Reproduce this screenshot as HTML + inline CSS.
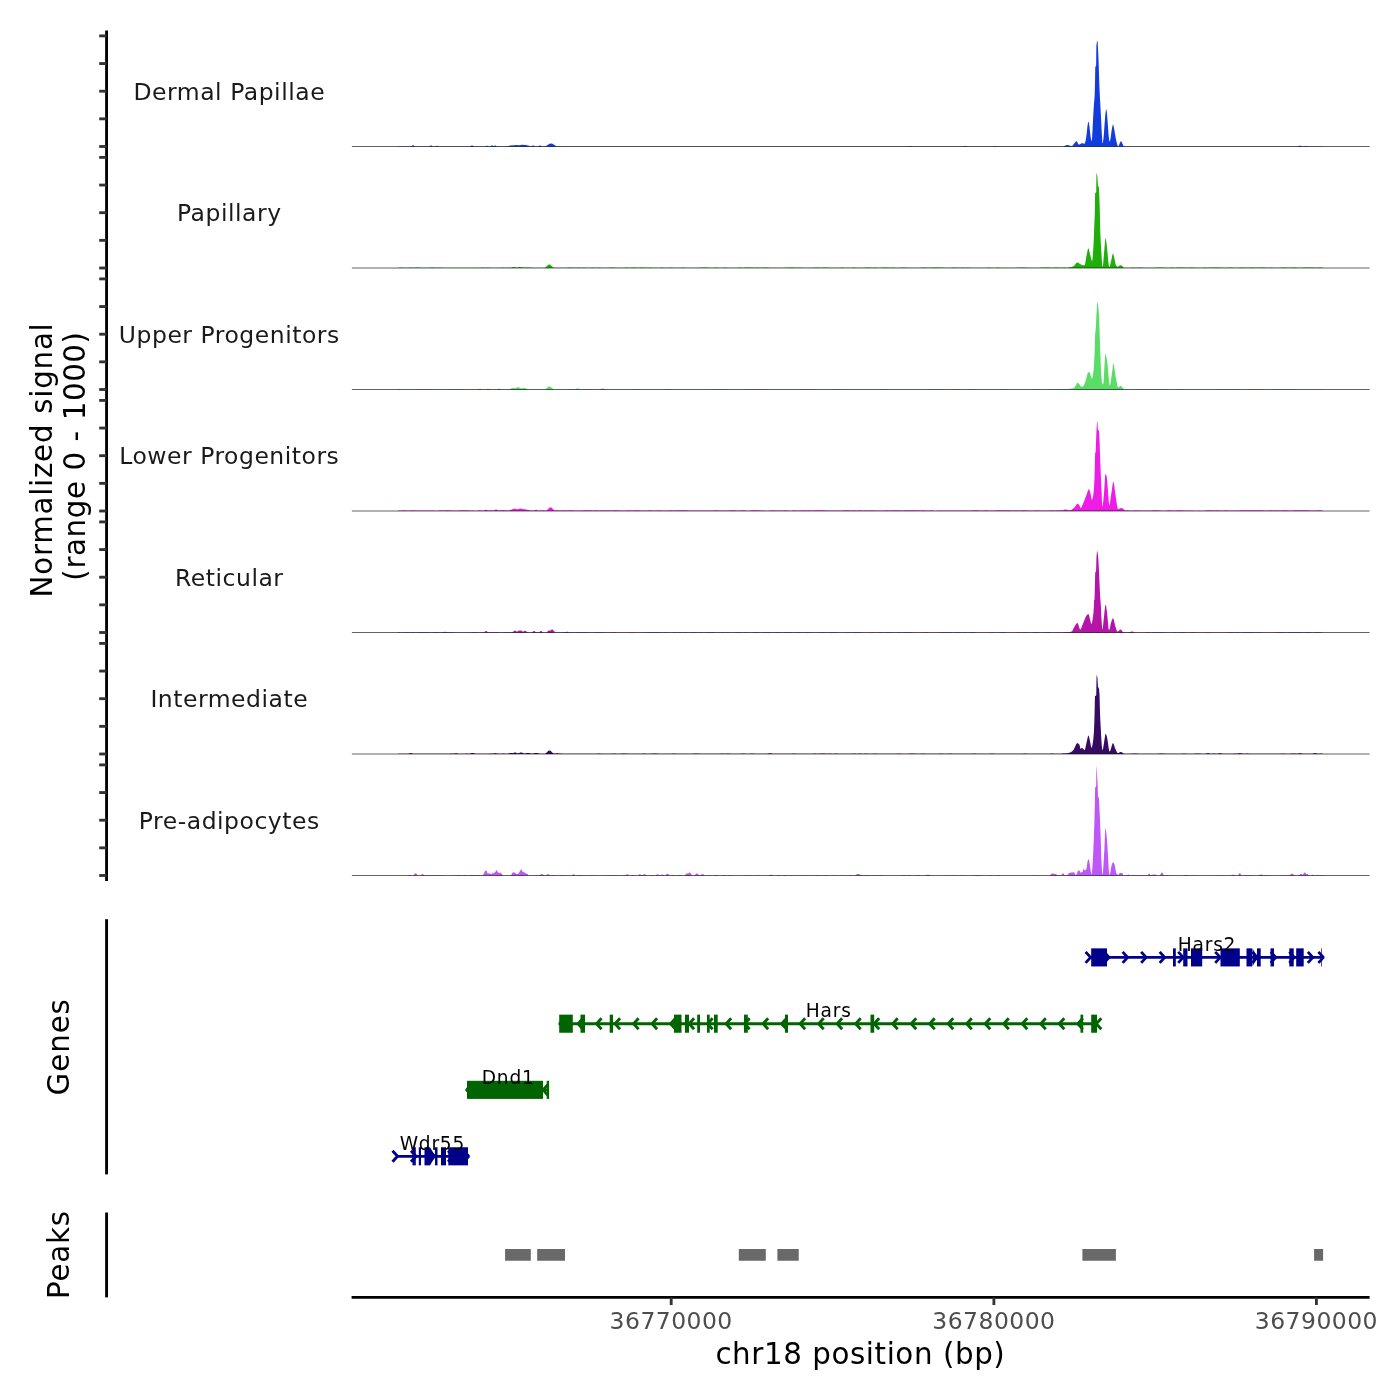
<!DOCTYPE html>
<html lang="en"><head><meta charset="utf-8"><title>Coverage plot chr18</title>
<style>html,body{margin:0;padding:0;background:#fff}svg{display:block}text{font-family:"DejaVu Sans", "Liberation Sans", sans-serif;letter-spacing:0.0197em}</style></head><body>
<svg width="1400" height="1400" viewBox="0 0 1400 1400">
<rect width="1400" height="1400" fill="#fff"/>
<path d="M398 146.5 L398 146.23 L401 146.21 L404 146.2 L407 146.26 L410 146.31 L413 146.26 L416 146.22 L419 146.3 L422 146.35 L425 146.22 L428 146.28 L431 146.22 L434 146.33 L437 146.31 L440 146.35 L443 146.31 L446 146.25 L449 146.29 L452 146.29 L455 146.36 L458 146.35 L461 146.26 L464 146.26 L467 146.23 L470 146.36 L473 146.24 L476 146.28 L479 146.25 L482 146.3 L485 146.24 L488 146.24 L491 146.26 L494 146.26 L497 146.36 L500 146.21 L503 146.2 L506 146.36 L509 146.22 L512 146.25 L515 146.23 L518 146.36 L521 146.31 L524 146.27 L527 146.31 L530 146.22 L533 146.22 L536 146.32 L539 146.2 L542 146.36 L545 146.33 L548 146.33 L551 146.21 L554 146.35 L557 146.28 L560 146.27 L563 146.34 L566 146.24 L569 146.31 L572 146.33 L575 146.21 L578 146.3 L581 146.35 L584 146.34 L587 146.21 L590 146.23 L593 146.33 L596 146.34 L599 146.31 L602 146.28 L605 146.26 L608 146.33 L611 146.36 L614 146.29 L617 146.33 L620 146.35 L623 146.2 L626 146.21 L629 146.31 L632 146.23 L635 146.24 L638 146.31 L641 146.21 L644 146.21 L647 146.27 L650 146.26 L653 146.36 L656 146.2 L659 146.25 L662 146.3 L665 146.28 L668 146.33 L671 146.23 L674 146.32 L677 146.3 L680 146.25 L683 146.36 L686 146.3 L689 146.28 L692 146.32 L695 146.23 L698 146.27 L701 146.35 L704 146.32 L707 146.32 L710 146.25 L713 146.25 L716 146.32 L719 146.31 L722 146.24 L725 146.36 L728 146.34 L731 146.25 L734 146.27 L737 146.24 L740 146.2 L743 146.2 L746 146.25 L749 146.32 L752 146.25 L755 146.3 L758 146.27 L761 146.29 L764 146.26 L767 146.3 L770 146.22 L773 146.33 L776 146.22 L779 146.33 L782 146.21 L785 146.21 L788 146.24 L791 146.29 L794 146.33 L797 146.25 L800 146.26 L803 146.3 L806 146.33 L809 146.32 L812 146.25 L815 146.26 L818 146.31 L821 146.3 L824 146.29 L827 146.31 L830 146.28 L833 146.27 L836 146.35 L839 146.31 L842 146.25 L845 146.26 L848 146.36 L851 146.21 L854 146.26 L857 146.22 L860 146.34 L863 146.21 L866 146.33 L869 146.3 L872 146.27 L875 146.35 L878 146.25 L881 146.26 L884 146.23 L887 146.24 L890 146.36 L893 146.36 L896 146.26 L899 146.3 L902 146.22 L905 146.21 L908 146.25 L911 146.35 L914 146.29 L917 146.25 L920 146.33 L923 146.36 L926 146.3 L929 146.32 L932 146.23 L935 146.25 L938 146.33 L941 146.34 L944 146.24 L947 146.31 L950 146.36 L953 146.29 L956 146.26 L959 146.28 L962 146.3 L965 146.35 L968 146.23 L971 146.34 L974 146.33 L977 146.3 L980 146.29 L983 146.34 L986 146.35 L989 146.29 L992 146.31 L995 146.36 L998 146.28 L1001 146.31 L1004 146.23 L1007 146.36 L1010 146.29 L1013 146.35 L1016 146.34 L1019 146.31 L1022 146.21 L1025 146.36 L1028 146.3 L1031 146.29 L1034 146.26 L1037 146.28 L1040 146.32 L1043 146.21 L1046 146.3 L1049 146.33 L1052 146.27 L1055 146.24 L1058 146.22 L1061 146.26 L1064 146.33 L1067 146.28 L1070 146.27 L1073 146.21 L1076 146.36 L1079 146.29 L1082 146.35 L1085 146.31 L1088 146.29 L1091 146.34 L1094 146.35 L1097 146.23 L1100 146.21 L1103 146.31 L1106 146.31 L1109 146.32 L1112 146.36 L1115 146.31 L1118 146.33 L1121 146.35 L1124 146.34 L1127 146.36 L1130 146.21 L1133 146.27 L1136 146.22 L1139 146.23 L1142 146.36 L1145 146.3 L1148 146.28 L1151 146.35 L1154 146.35 L1157 146.27 L1160 146.31 L1163 146.36 L1166 146.29 L1169 146.26 L1172 146.23 L1175 146.27 L1178 146.28 L1181 146.34 L1184 146.26 L1187 146.27 L1190 146.21 L1193 146.24 L1196 146.21 L1199 146.24 L1202 146.3 L1205 146.23 L1208 146.26 L1211 146.36 L1214 146.34 L1217 146.29 L1220 146.25 L1223 146.29 L1226 146.35 L1229 146.24 L1232 146.29 L1235 146.32 L1238 146.36 L1241 146.24 L1244 146.35 L1247 146.34 L1250 146.33 L1253 146.36 L1256 146.29 L1259 146.29 L1262 146.35 L1265 146.21 L1268 146.35 L1271 146.31 L1274 146.27 L1277 146.3 L1280 146.22 L1283 146.26 L1286 146.33 L1289 146.29 L1292 146.34 L1295 146.3 L1298 146.28 L1301 146.35 L1304 146.36 L1307 146.24 L1310 146.23 L1313 146.26 L1316 146.21 L1319 146.28 L1322 146.35 L1323.5 146.5Z" fill="#133CDC"/>
<path d="M507 146.5 L510 145.5 L514 145.3 L516 144.9 L519 145.2 L522 144.7 L526 145 L529 145.7 L531 146.5 Z" fill="#133CDC"/>
<path d="M411 146.5 L411.76 145.96 L412.5 145.36 L413 145.3 L413.5 145.36 L414.24 145.96 L415 146.5Z" fill="#133CDC"/>
<path d="M429 146.5 L429.76 146.05 L430.5 145.55 L431 145.5 L431.5 145.55 L432.24 146.05 L433 146.5Z" fill="#133CDC"/>
<path d="M435.5 146.5 L436.07 146.14 L436.62 145.74 L437 145.7 L437.38 145.74 L437.93 146.14 L438.5 146.5Z" fill="#133CDC"/>
<path d="M470 146.5 L470.76 146.05 L471.5 145.55 L472 145.5 L472.5 145.55 L473.24 146.05 L474 146.5Z" fill="#133CDC"/>
<path d="M485 146.5 L485.76 146.14 L486.5 145.74 L487 145.7 L487.5 145.74 L488.24 146.14 L489 146.5Z" fill="#133CDC"/>
<path d="M490 146.5 L490.76 146.05 L491.5 145.55 L492 145.5 L492.5 145.55 L493.24 146.05 L494 146.5Z" fill="#133CDC"/>
<path d="M493 146.5 L493.76 146.05 L494.5 145.55 L495 145.5 L495.5 145.55 L496.24 146.05 L497 146.5Z" fill="#133CDC"/>
<path d="M531 146.5 L531.76 146.05 L532.5 145.55 L533 145.5 L533.5 145.55 L534.24 146.05 L535 146.5Z" fill="#133CDC"/>
<path d="M538 146.5 L538.76 146.05 L539.5 145.55 L540 145.5 L540.5 145.55 L541.24 146.05 L542 146.5Z" fill="#133CDC"/>
<path d="M545 146.5 L547.28 145.15 L549.5 143.65 L551 143.5 L552.5 143.65 L554.72 145.15 L557 146.5Z" fill="#133CDC"/>
<path d="M908 146.5 L908.76 146.23 L909.5 145.93 L910 145.9 L910.5 145.93 L911.24 146.23 L912 146.5Z" fill="#133CDC"/>
<path d="M962 146.5 L963.14 146.23 L964.25 145.93 L965 145.9 L965.75 145.93 L966.86 146.23 L968 146.5Z" fill="#133CDC"/>
<path d="M993 146.5 L993.76 146.23 L994.5 145.93 L995 145.9 L995.5 145.93 L996.24 146.23 L997 146.5Z" fill="#133CDC"/>
<path d="M1297 146.5 L1298.14 146.14 L1299.25 145.74 L1300 145.7 L1300.75 145.74 L1301.86 146.14 L1303 146.5Z" fill="#133CDC"/>
<path d="M1304 146.5 L1304.76 146.23 L1305.5 145.93 L1306 145.9 L1306.5 145.93 L1307.24 146.23 L1308 146.5Z" fill="#133CDC"/>
<path d="M1064 146.5 L1064 146.33 L1064.4 146.08 L1064.8 145.85 L1065.2 145.64 L1065.6 145.45 L1066 145.3 L1066.4 145.18 L1066.8 145.1 L1067.2 145.05 L1067.43 145.04 L1067.6 145.05 L1068 145.09 L1068.4 145.18 L1068.8 145.29 L1069.2 145.43 L1069.61 145.57 L1070.01 145.71 L1070.41 145.84 L1070.81 145.95 L1071.21 146.03 L1071.61 146.07 L1071.71 146.07 L1072.01 146 L1072.41 145.72 L1072.81 145.28 L1073.21 144.74 L1073.61 144.18 L1074.01 143.64 L1074.29 143.33 L1074.41 143.19 L1074.81 142.7 L1075.21 142.17 L1075.61 141.68 L1076.01 141.33 L1076.41 141.19 L1076.43 141.19 L1076.81 141.39 L1077.21 141.95 L1077.61 142.7 L1078.01 143.49 L1078.41 144.16 L1078.81 144.56 L1079 144.61 L1079.21 144.59 L1079.61 144.46 L1080.02 144.23 L1080.42 143.95 L1080.82 143.66 L1081.22 143.4 L1081.62 143.22 L1082 143.16 L1082.02 143.16 L1082.42 143.2 L1082.82 143.3 L1083.22 143.43 L1083.62 143.57 L1084.02 143.69 L1084.42 143.75 L1084.57 143.76 L1084.82 143.51 L1085.22 142.31 L1085.62 140.61 L1085.69 140.33 L1086.02 138.44 L1086.42 135.42 L1086.71 133.04 L1086.82 132.13 L1087.22 128.2 L1087.57 125.33 L1087.62 125.02 L1088.02 122.64 L1088.42 121.47 L1088.43 121.47 L1088.82 122.58 L1089.22 124.95 L1089.29 125.33 L1089.62 128.1 L1090.02 132.04 L1090.14 133.04 L1090.42 135.31 L1090.83 138.23 L1091.09 139.47 L1091.23 139.93 L1091.63 140.92 L1091.77 141.01 L1092.03 138.91 L1092.37 133.04 L1092.43 132.13 L1092.83 124.05 L1093.14 117.61 L1093.23 116.09 L1093.63 109.2 L1093.91 104.76 L1094.03 103.25 L1094.43 98.78 L1094.65 95.16 L1094.83 89.72 L1095.09 78.1 L1095.23 69.08 L1095.29 67.3 L1095.63 66.3 L1096.03 65.69 L1096.14 65.16 L1096.37 45.87 L1096.43 45.27 L1096.83 42.2 L1097.23 40.94 L1097.43 40.81 L1097.63 42.03 L1098.03 48.95 L1098.2 52.3 L1098.43 57.5 L1098.71 65.16 L1098.83 68.84 L1099.12 78.1 L1099.23 81.24 L1099.63 90.95 L1099.83 95.16 L1100.03 99.15 L1100.34 104.76 L1100.43 106.46 L1100.83 113.92 L1101.03 117.61 L1101.23 121.83 L1101.64 130.29 L1101.89 134.76 L1102.04 137.24 L1102.44 142.94 L1102.57 143.5 L1102.84 142.77 L1103.17 140.76 L1103.24 140.33 L1103.64 136.73 L1103.86 134.33 L1104.04 132.08 L1104.44 126.19 L1104.71 122.33 L1104.84 120.74 L1105.24 115.71 L1105.57 112.47 L1105.64 111.95 L1106.04 109.3 L1106.17 109.04 L1106.44 109.76 L1106.84 112.35 L1106.86 112.47 L1107.24 116.41 L1107.64 121.81 L1107.71 122.76 L1108.04 127.38 L1108.44 132.94 L1108.57 134.33 L1108.84 137.01 L1109.24 140.48 L1109.6 141.79 L1109.64 141.77 L1110.04 140.83 L1110.44 139.1 L1110.46 139.04 L1110.84 136.57 L1111.14 134.33 L1111.24 133.6 L1111.64 130.57 L1112 128.33 L1112.05 128.1 L1112.45 126.08 L1112.85 124.66 L1113.03 124.47 L1113.25 124.78 L1113.65 126.37 L1113.89 127.47 L1114.05 128.23 L1114.45 130.54 L1114.85 133.02 L1115 133.9 L1115.25 135.31 L1115.65 137.63 L1116.05 139.73 L1116.29 140.76 L1116.45 141.41 L1116.85 143.04 L1117.25 144.57 L1117.65 145.77 L1118.05 146.43 L1118.21 146.5 L1118.45 146.35 L1118.85 145.56 L1119.25 144.46 L1119.65 143.45 L1119.71 143.33 L1120.05 142.62 L1120.45 141.77 L1120.85 141.24 L1121 141.19 L1121.25 141.33 L1121.65 141.99 L1122.05 142.86 L1122.29 143.33 L1122.45 143.67 L1122.86 144.61 L1123.26 145.48 L1123.57 145.9 L1123.66 145.96 L1124.06 146.23 L1124.46 146.43 L1124.86 146.5 L1124.86 146.5Z" fill="#133CDC"/>
<line x1="351.9" y1="146.5" x2="1369.6" y2="146.5" stroke="#000" stroke-width="0.62"/>
<path d="M398 268 L398 267.73 L401 267.53 L404 267.64 L407 267.76 L410 267.58 L413 267.63 L416 267.55 L419 267.58 L422 267.69 L425 267.69 L428 267.69 L431 267.58 L434 267.51 L437 267.73 L440 267.56 L443 267.75 L446 267.66 L449 267.66 L452 267.7 L455 267.68 L458 267.73 L461 267.63 L464 267.76 L467 267.64 L470 267.77 L473 267.73 L476 267.7 L479 267.76 L482 267.56 L485 267.76 L488 267.52 L491 267.64 L494 267.76 L497 267.75 L500 267.63 L503 267.56 L506 267.64 L509 267.57 L512 267.67 L515 267.55 L518 267.57 L521 267.59 L524 267.55 L527 267.61 L530 267.54 L533 267.68 L536 267.71 L539 267.77 L542 267.64 L545 267.66 L548 267.75 L551 267.75 L554 267.66 L557 267.64 L560 267.75 L563 267.77 L566 267.73 L569 267.55 L572 267.54 L575 267.69 L578 267.56 L581 267.76 L584 267.55 L587 267.68 L590 267.64 L593 267.6 L596 267.75 L599 267.51 L602 267.75 L605 267.73 L608 267.69 L611 267.54 L614 267.56 L617 267.72 L620 267.69 L623 267.69 L626 267.58 L629 267.67 L632 267.55 L635 267.52 L638 267.74 L641 267.57 L644 267.6 L647 267.74 L650 267.54 L653 267.72 L656 267.66 L659 267.65 L662 267.6 L665 267.77 L668 267.69 L671 267.61 L674 267.72 L677 267.69 L680 267.66 L683 267.61 L686 267.71 L689 267.64 L692 267.67 L695 267.76 L698 267.67 L701 267.56 L704 267.62 L707 267.56 L710 267.72 L713 267.74 L716 267.55 L719 267.66 L722 267.71 L725 267.5 L728 267.66 L731 267.67 L734 267.77 L737 267.65 L740 267.57 L743 267.67 L746 267.6 L749 267.6 L752 267.53 L755 267.67 L758 267.53 L761 267.64 L764 267.56 L767 267.61 L770 267.65 L773 267.74 L776 267.66 L779 267.63 L782 267.76 L785 267.77 L788 267.53 L791 267.55 L794 267.6 L797 267.7 L800 267.56 L803 267.68 L806 267.64 L809 267.75 L812 267.63 L815 267.52 L818 267.56 L821 267.64 L824 267.56 L827 267.55 L830 267.71 L833 267.74 L836 267.69 L839 267.68 L842 267.59 L845 267.75 L848 267.72 L851 267.73 L854 267.52 L857 267.64 L860 267.71 L863 267.76 L866 267.57 L869 267.53 L872 267.77 L875 267.53 L878 267.77 L881 267.76 L884 267.53 L887 267.53 L890 267.72 L893 267.59 L896 267.68 L899 267.68 L902 267.56 L905 267.6 L908 267.71 L911 267.72 L914 267.73 L917 267.77 L920 267.66 L923 267.54 L926 267.5 L929 267.73 L932 267.62 L935 267.57 L938 267.59 L941 267.54 L944 267.76 L947 267.64 L950 267.68 L953 267.58 L956 267.5 L959 267.67 L962 267.6 L965 267.64 L968 267.61 L971 267.71 L974 267.66 L977 267.63 L980 267.69 L983 267.66 L986 267.63 L989 267.53 L992 267.7 L995 267.66 L998 267.51 L1001 267.66 L1004 267.67 L1007 267.68 L1010 267.76 L1013 267.66 L1016 267.63 L1019 267.55 L1022 267.53 L1025 267.56 L1028 267.66 L1031 267.72 L1034 267.75 L1037 267.66 L1040 267.73 L1043 267.56 L1046 267.6 L1049 267.56 L1052 267.64 L1055 267.55 L1058 267.55 L1061 267.7 L1064 267.53 L1067 267.64 L1070 267.56 L1073 267.55 L1076 267.58 L1079 267.62 L1082 267.55 L1085 267.69 L1088 267.56 L1091 267.54 L1094 267.74 L1097 267.77 L1100 267.5 L1103 267.63 L1106 267.77 L1109 267.65 L1112 267.69 L1115 267.75 L1118 267.66 L1121 267.66 L1124 267.75 L1127 267.67 L1130 267.69 L1133 267.61 L1136 267.64 L1139 267.54 L1142 267.54 L1145 267.77 L1148 267.71 L1151 267.66 L1154 267.68 L1157 267.53 L1160 267.59 L1163 267.58 L1166 267.63 L1169 267.69 L1172 267.57 L1175 267.64 L1178 267.54 L1181 267.54 L1184 267.53 L1187 267.71 L1190 267.5 L1193 267.62 L1196 267.75 L1199 267.66 L1202 267.66 L1205 267.55 L1208 267.75 L1211 267.6 L1214 267.52 L1217 267.61 L1220 267.57 L1223 267.64 L1226 267.76 L1229 267.58 L1232 267.52 L1235 267.77 L1238 267.72 L1241 267.6 L1244 267.53 L1247 267.69 L1250 267.6 L1253 267.56 L1256 267.71 L1259 267.55 L1262 267.57 L1265 267.51 L1268 267.77 L1271 267.58 L1274 267.73 L1277 267.63 L1280 267.66 L1283 267.58 L1286 267.61 L1289 267.73 L1292 267.58 L1295 267.57 L1298 267.75 L1301 267.72 L1304 267.59 L1307 267.57 L1310 267.51 L1313 267.6 L1316 267.73 L1319 267.55 L1322 267.54 L1323.5 268Z" fill="#20AE0A"/>
<path d="M511.2 268 L512.15 267.55 L513.08 267.05 L513.7 267 L514.33 267.05 L515.25 267.55 L516.2 268Z" fill="#20AE0A"/>
<path d="M517.5 268 L518.45 267.55 L519.38 267.05 L520 267 L520.62 267.05 L521.55 267.55 L522.5 268Z" fill="#20AE0A"/>
<path d="M544.8 268 L546.51 266.43 L548.17 264.68 L549.3 264.5 L550.42 264.68 L552.09 266.43 L553.8 268Z" fill="#20AE0A"/>
<path d="M1068.29 268 L1068.29 267.57 L1068.69 267.56 L1069.09 267.53 L1069.49 267.48 L1069.89 267.42 L1070.29 267.33 L1070.69 267.24 L1071.09 267.13 L1071.49 267.01 L1071.89 266.87 L1072.29 266.73 L1072.69 266.58 L1073.09 266.42 L1073.43 266.29 L1073.49 266.26 L1073.89 265.98 L1074.3 265.57 L1074.7 265.08 L1075.1 264.52 L1075.5 263.96 L1075.9 263.44 L1076.3 262.98 L1076.7 262.64 L1077.1 262.45 L1077.29 262.43 L1077.5 262.45 L1077.9 262.57 L1078.3 262.78 L1078.7 263.05 L1079.1 263.35 L1079.5 263.65 L1079.9 263.93 L1080.29 264.14 L1080.3 264.15 L1080.7 264.35 L1081.11 264.57 L1081.51 264.78 L1081.91 264.96 L1082.31 265.09 L1082.71 265.17 L1082.86 265.17 L1083.11 265.17 L1083.51 265.17 L1083.91 265.17 L1084.31 265.17 L1084.57 265.17 L1084.71 265.08 L1085.11 263.94 L1085.51 261.87 L1085.91 259.33 L1086.31 256.79 L1086.71 254.71 L1087.11 252.83 L1087.52 250.85 L1087.92 249.21 L1088.32 248.34 L1088.43 248.29 L1088.72 248.63 L1089.12 249.99 L1089.52 251.9 L1089.92 253.83 L1090.14 254.71 L1090.32 255.37 L1090.72 257.03 L1091.12 258.71 L1091.52 260.08 L1091.92 260.85 L1092.07 260.91 L1092.32 260.22 L1092.72 256.66 L1093.12 250.99 L1093.52 244.18 L1093.66 241.86 L1093.93 235.37 L1094.17 228.49 L1094.33 224.98 L1094.73 215.87 L1094.86 211.34 L1095.11 193 L1095.13 192.98 L1095.53 192.7 L1095.93 192.62 L1096.23 192.31 L1096.31 181.86 L1096.33 180.72 L1096.49 172.94 L1096.73 173.28 L1097.13 175.06 L1097.43 177.06 L1097.53 178.37 L1097.93 185.5 L1097.94 185.54 L1098.33 186.16 L1098.73 186.65 L1098.8 186.83 L1099.13 191.81 L1099.4 198.4 L1099.53 201.82 L1099.83 211.34 L1099.93 216.48 L1100.17 228.49 L1100.34 233.08 L1100.74 241.31 L1101.03 246.14 L1101.14 247.99 L1101.54 255.23 L1101.94 261.83 L1102.34 266.13 L1102.57 266.91 L1102.74 266.61 L1103.14 263.89 L1103.54 259.36 L1103.94 254.28 L1104.29 250.43 L1104.34 249.87 L1104.74 245.01 L1105.14 240.3 L1105.54 238.01 L1105.57 238 L1105.94 239.1 L1106.34 241.95 L1106.75 245.29 L1106.86 246.14 L1107.15 248.62 L1107.55 252.94 L1107.95 257.65 L1108.35 262.02 L1108.75 265.34 L1109.15 266.88 L1109.21 266.91 L1109.55 266.64 L1109.95 265.69 L1110.35 264.26 L1110.75 262.54 L1111.15 260.75 L1111.55 259.07 L1111.57 259 L1111.95 257.09 L1112.35 254.86 L1112.75 253.5 L1112.86 253.43 L1113.16 253.77 L1113.56 254.99 L1113.96 256.58 L1114.14 257.29 L1114.36 258.16 L1114.76 260.22 L1115.16 262.4 L1115.56 264.2 L1115.86 265 L1115.96 265.17 L1116.36 265.77 L1116.76 266.26 L1117.16 266.59 L1117.56 266.71 L1117.57 266.71 L1117.96 266.64 L1118.36 266.45 L1118.76 266.18 L1119.16 265.87 L1119.57 265.58 L1119.97 265.33 L1120.37 265.19 L1120.57 265.17 L1120.77 265.18 L1121.17 265.28 L1121.57 265.47 L1121.97 265.74 L1122.37 266.1 L1122.77 266.52 L1123.17 267.02 L1123.57 267.57 L1123.57 268Z" fill="#20AE0A"/>
<line x1="351.9" y1="268" x2="1369.6" y2="268" stroke="#000" stroke-width="0.62"/>
<path d="M398 389.5 L398 389.12 L401 389.28 L404 389.18 L407 389.22 L410 389.3 L413 389.23 L416 389.29 L419 389.31 L422 389.11 L425 389.15 L428 389.16 L431 389.12 L434 389.31 L437 389.19 L440 389.22 L443 389.14 L446 389.29 L449 389.11 L452 389.16 L455 389.3 L458 389.18 L461 389.1 L464 389.22 L467 389.28 L470 389.32 L473 389.2 L476 389.18 L479 389.22 L482 389.19 L485 389.23 L488 389.16 L491 389.17 L494 389.31 L497 389.21 L500 389.3 L503 389.32 L506 389.25 L509 389.28 L512 389.17 L515 389.15 L518 389.23 L521 389.32 L524 389.31 L527 389.26 L530 389.14 L533 389.15 L536 389.29 L539 389.21 L542 389.2 L545 389.26 L548 389.25 L551 389.26 L554 389.15 L557 389.13 L560 389.32 L563 389.13 L566 389.19 L569 389.25 L572 389.12 L575 389.26 L578 389.2 L581 389.24 L584 389.13 L587 389.23 L590 389.29 L593 389.3 L596 389.32 L599 389.19 L602 389.25 L605 389.17 L608 389.15 L611 389.17 L614 389.16 L617 389.15 L620 389.29 L623 389.27 L626 389.21 L629 389.31 L632 389.27 L635 389.21 L638 389.12 L641 389.19 L644 389.16 L647 389.17 L650 389.22 L653 389.24 L656 389.22 L659 389.18 L662 389.14 L665 389.3 L668 389.22 L671 389.16 L674 389.29 L677 389.14 L680 389.19 L683 389.28 L686 389.3 L689 389.23 L692 389.29 L695 389.26 L698 389.2 L701 389.13 L704 389.21 L707 389.26 L710 389.16 L713 389.1 L716 389.25 L719 389.29 L722 389.25 L725 389.11 L728 389.17 L731 389.31 L734 389.23 L737 389.16 L740 389.22 L743 389.28 L746 389.11 L749 389.18 L752 389.3 L755 389.1 L758 389.18 L761 389.12 L764 389.21 L767 389.14 L770 389.23 L773 389.32 L776 389.2 L779 389.14 L782 389.28 L785 389.3 L788 389.24 L791 389.19 L794 389.3 L797 389.14 L800 389.25 L803 389.12 L806 389.3 L809 389.11 L812 389.25 L815 389.18 L818 389.28 L821 389.19 L824 389.16 L827 389.24 L830 389.19 L833 389.17 L836 389.2 L839 389.12 L842 389.18 L845 389.19 L848 389.25 L851 389.23 L854 389.18 L857 389.29 L860 389.26 L863 389.27 L866 389.25 L869 389.14 L872 389.22 L875 389.17 L878 389.16 L881 389.29 L884 389.1 L887 389.32 L890 389.25 L893 389.26 L896 389.18 L899 389.25 L902 389.17 L905 389.25 L908 389.24 L911 389.26 L914 389.21 L917 389.24 L920 389.27 L923 389.31 L926 389.32 L929 389.23 L932 389.12 L935 389.23 L938 389.2 L941 389.11 L944 389.16 L947 389.17 L950 389.26 L953 389.11 L956 389.11 L959 389.13 L962 389.13 L965 389.26 L968 389.23 L971 389.12 L974 389.28 L977 389.18 L980 389.29 L983 389.3 L986 389.24 L989 389.16 L992 389.14 L995 389.24 L998 389.23 L1001 389.22 L1004 389.1 L1007 389.18 L1010 389.17 L1013 389.15 L1016 389.26 L1019 389.24 L1022 389.23 L1025 389.13 L1028 389.22 L1031 389.21 L1034 389.19 L1037 389.11 L1040 389.18 L1043 389.18 L1046 389.14 L1049 389.24 L1052 389.32 L1055 389.11 L1058 389.15 L1061 389.12 L1064 389.1 L1067 389.22 L1070 389.32 L1073 389.25 L1076 389.16 L1079 389.26 L1082 389.21 L1085 389.13 L1088 389.3 L1091 389.2 L1094 389.19 L1097 389.15 L1100 389.17 L1103 389.17 L1106 389.25 L1109 389.18 L1112 389.19 L1115 389.13 L1118 389.31 L1121 389.16 L1124 389.31 L1127 389.29 L1130 389.17 L1133 389.27 L1136 389.3 L1139 389.12 L1142 389.18 L1145 389.26 L1148 389.1 L1151 389.16 L1154 389.18 L1157 389.14 L1160 389.1 L1163 389.24 L1166 389.32 L1169 389.19 L1172 389.18 L1175 389.23 L1178 389.27 L1181 389.12 L1184 389.29 L1187 389.13 L1190 389.31 L1193 389.24 L1196 389.13 L1199 389.21 L1202 389.23 L1205 389.27 L1208 389.28 L1211 389.18 L1214 389.17 L1217 389.15 L1220 389.15 L1223 389.12 L1226 389.32 L1229 389.26 L1232 389.1 L1235 389.16 L1238 389.24 L1241 389.22 L1244 389.17 L1247 389.22 L1250 389.17 L1253 389.11 L1256 389.1 L1259 389.19 L1262 389.32 L1265 389.24 L1268 389.24 L1271 389.22 L1274 389.15 L1277 389.18 L1280 389.11 L1283 389.15 L1286 389.19 L1289 389.21 L1292 389.12 L1295 389.21 L1298 389.3 L1301 389.17 L1304 389.25 L1307 389.25 L1310 389.21 L1313 389.18 L1316 389.24 L1319 389.17 L1322 389.18 L1323.5 389.5Z" fill="#5ADD67"/>
<path d="M477.5 389.5 L478.45 389.14 L479.38 388.74 L480 388.7 L480.62 388.74 L481.55 389.14 L482.5 389.5Z" fill="#5ADD67"/>
<path d="M485.5 389.5 L486.45 389.14 L487.38 388.74 L488 388.7 L488.62 388.74 L489.55 389.14 L490.5 389.5Z" fill="#5ADD67"/>
<path d="M496.5 389.5 L497.45 389.14 L498.38 388.74 L499 388.7 L499.62 388.74 L500.55 389.14 L501.5 389.5Z" fill="#5ADD67"/>
<path d="M509 389.5 L510.52 388.82 L512 388.07 L513 388 L514 388.07 L515.48 388.82 L517 389.5Z" fill="#5ADD67"/>
<path d="M513 389.5 L514.9 388.51 L516.75 387.41 L518 387.3 L519.25 387.41 L521.1 388.51 L523 389.5Z" fill="#5ADD67"/>
<path d="M520 389.5 L521.52 388.78 L523 387.98 L524 387.9 L525 387.98 L526.48 388.78 L528 389.5Z" fill="#5ADD67"/>
<path d="M544.9 389.5 L546.61 388.15 L548.27 386.65 L549.4 386.5 L550.52 386.65 L552.19 388.15 L553.9 389.5Z" fill="#5ADD67"/>
<path d="M574.5 389.5 L575.64 389.05 L576.75 388.55 L577.5 388.5 L578.25 388.55 L579.36 389.05 L580.5 389.5Z" fill="#5ADD67"/>
<path d="M585 389.5 L585.76 389.23 L586.5 388.93 L587 388.9 L587.5 388.93 L588.24 389.23 L589 389.5Z" fill="#5ADD67"/>
<path d="M599 389.5 L600.33 389.05 L601.62 388.55 L602.5 388.5 L603.38 388.55 L604.67 389.05 L606 389.5Z" fill="#5ADD67"/>
<path d="M666 389.5 L666.76 389.23 L667.5 388.93 L668 388.9 L668.5 388.93 L669.24 389.23 L670 389.5Z" fill="#5ADD67"/>
<path d="M1061.43 389.5 L1061.43 389.24 L1061.83 389.24 L1062.23 389.24 L1062.63 389.24 L1063.03 389.23 L1063.43 389.22 L1063.83 389.21 L1064.24 389.2 L1064.64 389.18 L1065.04 389.17 L1065.44 389.15 L1065.84 389.13 L1066.24 389.11 L1066.64 389.08 L1067.04 389.05 L1067.44 389.02 L1067.84 388.99 L1068.24 388.95 L1068.65 388.91 L1069.05 388.87 L1069.45 388.83 L1069.85 388.78 L1070.25 388.73 L1070.65 388.68 L1071.05 388.62 L1071.45 388.56 L1071.85 388.5 L1072.25 388.43 L1072.65 388.36 L1073.06 388.29 L1073.43 388.21 L1073.46 388.21 L1073.86 388.02 L1074.26 387.66 L1074.66 387.18 L1075.06 386.62 L1075.46 386.02 L1075.86 385.42 L1076 385.21 L1076.26 384.74 L1076.66 383.82 L1077.06 382.99 L1077.46 382.64 L1077.47 382.64 L1077.87 382.76 L1078.27 383.07 L1078.67 383.49 L1079.07 383.96 L1079.43 384.36 L1079.47 384.4 L1079.87 384.96 L1080.27 385.63 L1080.67 386.2 L1081.07 386.49 L1081.14 386.5 L1081.47 386.5 L1081.88 386.5 L1082.28 386.5 L1082.68 386.5 L1082.86 386.5 L1083.08 386.44 L1083.48 386.03 L1083.88 385.32 L1084.28 384.4 L1084.68 383.35 L1085.08 382.26 L1085.43 381.36 L1085.48 381.21 L1085.88 379.94 L1086.29 378.38 L1086.69 376.71 L1087.09 375.13 L1087.49 373.8 L1087.89 372.93 L1088 372.79 L1088.29 372.49 L1088.69 372.16 L1089.09 371.96 L1089.29 371.93 L1089.49 372.09 L1089.89 373.1 L1090.29 374.5 L1090.57 375.36 L1090.7 375.72 L1091.1 377.1 L1091.5 378.32 L1091.86 378.79 L1091.9 378.78 L1092.3 378.06 L1092.7 376.32 L1093.1 373.81 L1093.5 370.77 L1093.57 370.21 L1093.9 366.26 L1094.3 358.91 L1094.43 356.24 L1094.71 348.27 L1094.86 343.3 L1095.11 334.96 L1095.11 334.81 L1095.51 330.57 L1095.91 327.12 L1095.97 326.24 L1096.31 317.61 L1096.4 315.53 L1096.71 310.73 L1096.83 309.1 L1097.11 304.44 L1097.43 301.3 L1097.51 301.37 L1097.91 303.24 L1098.31 306.78 L1098.54 309.1 L1098.71 311.21 L1098.97 315.53 L1099.12 318.65 L1099.4 326.24 L1099.52 329.57 L1099.83 339.1 L1099.92 341.71 L1100.32 353.31 L1100.43 356.24 L1100.72 363.78 L1101.03 370.21 L1101.12 371.59 L1101.52 377.42 L1101.92 382.03 L1102.32 384.29 L1102.4 384.36 L1102.72 384.22 L1103.12 383.69 L1103.43 383.07 L1103.53 382.58 L1103.93 376.41 L1104.33 368.09 L1104.46 365.93 L1104.73 361.49 L1105.13 355.39 L1105.4 353.76 L1105.53 353.83 L1105.93 354.79 L1106.33 356.64 L1106.73 359.01 L1107.13 361.56 L1107.29 362.5 L1107.53 364.37 L1107.94 368.53 L1108.34 373.45 L1108.74 378.34 L1109.14 382.44 L1109.54 384.97 L1109.77 385.41 L1109.94 385.28 L1110.34 384.02 L1110.74 381.78 L1111.14 378.94 L1111.54 375.92 L1111.94 373.13 L1112 372.79 L1112.35 370.19 L1112.75 366.72 L1113.15 363.98 L1113.46 363.19 L1113.55 363.25 L1113.95 364.88 L1114.35 367.86 L1114.75 371.11 L1115 372.79 L1115.15 373.65 L1115.55 375.86 L1115.95 377.98 L1116.29 379.64 L1116.35 379.99 L1116.76 382.28 L1117.16 384.63 L1117.56 386.5 L1117.96 387.35 L1118 387.36 L1118.36 387.29 L1118.76 387.09 L1119.16 386.81 L1119.56 386.51 L1119.96 386.25 L1120.36 386.1 L1120.57 386.07 L1120.76 386.09 L1121.17 386.21 L1121.57 386.44 L1121.97 386.79 L1122.37 387.23 L1122.77 387.76 L1123.17 388.38 L1123.57 389.07 L1123.57 389.5Z" fill="#5ADD67"/>
<line x1="351.9" y1="389.5" x2="1369.6" y2="389.5" stroke="#000" stroke-width="0.62"/>
<path d="M398 511 L398 510.54 L401 510.6 L404 510.3 L407 510.43 L410 510.61 L413 510.32 L416 510.61 L419 510.49 L422 510.55 L425 510.55 L428 510.58 L431 510.6 L434 510.56 L437 510.63 L440 510.33 L443 510.56 L446 510.25 L449 510.25 L452 510.4 L455 510.46 L458 510.59 L461 510.26 L464 510.25 L467 510.25 L470 510.46 L473 510.39 L476 510.64 L479 510.28 L482 510.48 L485 510.59 L488 510.42 L491 510.25 L494 510.43 L497 510.4 L500 510.34 L503 510.28 L506 510.31 L509 510.62 L512 510.46 L515 510.56 L518 510.59 L521 510.49 L524 510.51 L527 510.22 L530 510.47 L533 510.56 L536 510.62 L539 510.41 L542 510.22 L545 510.41 L548 510.39 L551 510.62 L554 510.59 L557 510.25 L560 510.4 L563 510.31 L566 510.45 L569 510.29 L572 510.22 L575 510.54 L578 510.49 L581 510.52 L584 510.23 L587 510.27 L590 510.29 L593 510.4 L596 510.23 L599 510.53 L602 510.22 L605 510.38 L608 510.25 L611 510.43 L614 510.35 L617 510.31 L620 510.48 L623 510.39 L626 510.51 L629 510.33 L632 510.54 L635 510.35 L638 510.34 L641 510.46 L644 510.45 L647 510.53 L650 510.35 L653 510.41 L656 510.42 L659 510.29 L662 510.62 L665 510.4 L668 510.39 L671 510.24 L674 510.61 L677 510.32 L680 510.32 L683 510.31 L686 510.22 L689 510.48 L692 510.53 L695 510.41 L698 510.5 L701 510.39 L704 510.47 L707 510.57 L710 510.55 L713 510.44 L716 510.27 L719 510.55 L722 510.45 L725 510.51 L728 510.5 L731 510.33 L734 510.27 L737 510.48 L740 510.54 L743 510.37 L746 510.5 L749 510.63 L752 510.25 L755 510.21 L758 510.22 L761 510.5 L764 510.38 L767 510.63 L770 510.47 L773 510.24 L776 510.61 L779 510.4 L782 510.5 L785 510.3 L788 510.43 L791 510.64 L794 510.23 L797 510.46 L800 510.44 L803 510.27 L806 510.49 L809 510.29 L812 510.58 L815 510.25 L818 510.37 L821 510.34 L824 510.35 L827 510.42 L830 510.51 L833 510.55 L836 510.48 L839 510.41 L842 510.53 L845 510.34 L848 510.27 L851 510.53 L854 510.24 L857 510.56 L860 510.31 L863 510.48 L866 510.27 L869 510.5 L872 510.26 L875 510.45 L878 510.62 L881 510.39 L884 510.6 L887 510.31 L890 510.43 L893 510.26 L896 510.24 L899 510.23 L902 510.54 L905 510.21 L908 510.26 L911 510.3 L914 510.28 L917 510.33 L920 510.46 L923 510.27 L926 510.62 L929 510.51 L932 510.34 L935 510.63 L938 510.45 L941 510.6 L944 510.45 L947 510.45 L950 510.38 L953 510.56 L956 510.5 L959 510.48 L962 510.6 L965 510.6 L968 510.55 L971 510.39 L974 510.21 L977 510.32 L980 510.47 L983 510.48 L986 510.3 L989 510.56 L992 510.46 L995 510.5 L998 510.26 L1001 510.24 L1004 510.21 L1007 510.21 L1010 510.24 L1013 510.6 L1016 510.35 L1019 510.44 L1022 510.21 L1025 510.21 L1028 510.59 L1031 510.56 L1034 510.62 L1037 510.25 L1040 510.4 L1043 510.43 L1046 510.46 L1049 510.48 L1052 510.24 L1055 510.45 L1058 510.34 L1061 510.24 L1064 510.61 L1067 510.28 L1070 510.36 L1073 510.56 L1076 510.47 L1079 510.47 L1082 510.56 L1085 510.45 L1088 510.45 L1091 510.53 L1094 510.63 L1097 510.23 L1100 510.31 L1103 510.27 L1106 510.37 L1109 510.27 L1112 510.25 L1115 510.38 L1118 510.52 L1121 510.45 L1124 510.46 L1127 510.24 L1130 510.43 L1133 510.52 L1136 510.34 L1139 510.5 L1142 510.44 L1145 510.4 L1148 510.59 L1151 510.6 L1154 510.24 L1157 510.32 L1160 510.51 L1163 510.63 L1166 510.61 L1169 510.25 L1172 510.41 L1175 510.51 L1178 510.22 L1181 510.37 L1184 510.47 L1187 510.41 L1190 510.58 L1193 510.58 L1196 510.63 L1199 510.56 L1202 510.63 L1205 510.54 L1208 510.35 L1211 510.36 L1214 510.45 L1217 510.22 L1220 510.46 L1223 510.5 L1226 510.22 L1229 510.55 L1232 510.44 L1235 510.45 L1238 510.41 L1241 510.34 L1244 510.27 L1247 510.37 L1250 510.33 L1253 510.3 L1256 510.31 L1259 510.23 L1262 510.35 L1265 510.49 L1268 510.52 L1271 510.28 L1274 510.47 L1277 510.3 L1280 510.44 L1283 510.28 L1286 510.21 L1289 510.55 L1292 510.61 L1295 510.27 L1298 510.33 L1301 510.28 L1304 510.21 L1307 510.25 L1310 510.61 L1313 510.52 L1316 510.39 L1319 510.21 L1322 510.45 L1323.5 511Z" fill="#EE1CE4"/>
<path d="M508 511 L510 510.1 L512 509.4 L514 508.6 L516 509 L518 509.3 L520 508.4 L522 508.8 L524 509.3 L526 509.6 L528 510.1 L530 510.6 L531.5 511 Z" fill="#EE1CE4"/>
<path d="M483.5 511 L484.45 510.46 L485.38 509.86 L486 509.8 L486.62 509.86 L487.55 510.46 L488.5 511Z" fill="#EE1CE4"/>
<path d="M493.5 511 L494.45 510.28 L495.38 509.48 L496 509.4 L496.62 509.48 L497.55 510.28 L498.5 511Z" fill="#EE1CE4"/>
<path d="M501 511 L501.76 510.64 L502.5 510.24 L503 510.2 L503.5 510.24 L504.24 510.64 L505 511Z" fill="#EE1CE4"/>
<path d="M534 511 L534.76 510.46 L535.5 509.86 L536 509.8 L536.5 509.86 L537.24 510.46 L538 511Z" fill="#EE1CE4"/>
<path d="M546 511 L547.71 509.38 L549.38 507.58 L550.5 507.4 L551.62 507.58 L553.29 509.38 L555 511Z" fill="#EE1CE4"/>
<path d="M1062.29 511 L1062.29 510.83 L1062.69 510.54 L1063.09 510.28 L1063.49 510.05 L1063.89 509.86 L1064.29 509.71 L1064.69 509.59 L1065.09 509.51 L1065.49 509.46 L1065.71 509.46 L1065.9 509.47 L1066.3 509.54 L1066.7 509.68 L1067.1 509.86 L1067.5 510.05 L1067.9 510.24 L1068.3 510.4 L1068.7 510.52 L1069.1 510.57 L1069.14 510.57 L1069.51 510.55 L1069.91 510.47 L1070.31 510.34 L1070.71 510.17 L1071.11 509.96 L1071.51 509.71 L1071.91 509.44 L1072.31 509.15 L1072.71 508.84 L1073.12 508.51 L1073.52 508.19 L1073.92 507.86 L1074.29 507.57 L1074.32 507.54 L1074.72 507.14 L1075.12 506.62 L1075.52 506.03 L1075.92 505.42 L1076.32 504.84 L1076.73 504.33 L1077.13 503.95 L1077.53 503.74 L1077.71 503.71 L1077.93 503.76 L1078.33 504.03 L1078.73 504.48 L1079.13 505.02 L1079.43 505.43 L1079.53 505.6 L1079.93 506.56 L1080.34 507.57 L1080.71 508 L1080.74 508 L1081.14 507.75 L1081.54 507.13 L1081.94 506.28 L1082.34 505.33 L1082.74 504.39 L1082.86 504.14 L1083.14 503.53 L1083.54 502.6 L1083.95 501.61 L1084.35 500.57 L1084.75 499.51 L1085.15 498.42 L1085.55 497.33 L1085.95 496.25 L1086.35 495.2 L1086.71 494.29 L1086.75 494.19 L1087.15 493.04 L1087.55 491.77 L1087.96 490.56 L1088.36 489.63 L1088.76 489.16 L1088.86 489.14 L1089.16 489.38 L1089.56 490.28 L1089.96 491.6 L1090.36 493.1 L1090.57 493.86 L1090.76 494.71 L1091.16 497.11 L1091.57 499.25 L1091.86 499.86 L1091.97 499.82 L1092.37 499.12 L1092.77 497.65 L1093.17 495.56 L1093.57 493 L1093.57 493 L1093.97 488.49 L1094.37 480.87 L1094.6 475.43 L1094.77 467.79 L1095.11 453.4 L1095.18 453.11 L1095.58 452.24 L1095.71 451.69 L1095.98 443.77 L1096.06 441.14 L1096.38 432.56 L1096.57 428.71 L1096.78 425.82 L1097.17 422.03 L1097.18 421.96 L1097.43 420.57 L1097.58 423.83 L1097.77 428.71 L1097.98 429.52 L1098.29 430.09 L1098.38 430.19 L1098.79 430.47 L1098.89 430.6 L1099.19 433.52 L1099.57 441.14 L1099.59 441.5 L1099.99 453.69 L1100 454 L1100.39 464.2 L1100.79 473.88 L1100.86 475.43 L1101.19 483.06 L1101.46 488.71 L1101.59 491.79 L1101.99 501.64 L1102.4 506.71 L1102.4 506.71 L1102.8 505.3 L1103.2 501.8 L1103.6 497.42 L1103.86 494.71 L1104 493.13 L1104.4 487.23 L1104.8 480.74 L1105.2 475.6 L1105.57 473.71 L1105.6 473.72 L1106.01 474.27 L1106.41 475.57 L1106.81 477.34 L1106.86 477.57 L1107.21 480.49 L1107.61 485.76 L1108.01 491.38 L1108.14 493 L1108.41 496.61 L1108.81 502.31 L1109.21 505.39 L1109.26 505.43 L1109.62 504.73 L1110.02 502.64 L1110.42 499.79 L1110.82 496.8 L1111.14 494.71 L1111.22 494.27 L1111.62 491.6 L1112.02 488.66 L1112.42 485.83 L1112.82 483.51 L1113.23 482.1 L1113.46 481.86 L1113.63 482.05 L1114.03 483.77 L1114.43 486.72 L1114.83 490.17 L1115.23 493.41 L1115.43 494.71 L1115.63 495.97 L1116.03 498.69 L1116.43 501.53 L1116.84 504.25 L1117.24 506.6 L1117.64 508.34 L1118.04 509.22 L1118.17 509.29 L1118.44 509.25 L1118.84 509.1 L1119.24 508.87 L1119.64 508.6 L1120.04 508.34 L1120.45 508.13 L1120.85 508.01 L1121 508 L1121.25 508.01 L1121.65 508.07 L1122.05 508.19 L1122.45 508.37 L1122.85 508.6 L1123.25 508.89 L1123.65 509.23 L1124.05 509.62 L1124.46 510.07 L1124.86 510.57 L1124.86 511Z" fill="#EE1CE4"/>
<line x1="351.9" y1="511" x2="1369.6" y2="511" stroke="#000" stroke-width="0.62"/>
<path d="M398 632.5 L398 632.12 L401 632.17 L404 632.2 L407 632.03 L410 632.15 L413 632.1 L416 632.27 L419 632.1 L422 632.05 L425 632.09 L428 632.12 L431 632.19 L434 632.03 L437 632.05 L440 632.17 L443 632.02 L446 632.1 L449 632.05 L452 632 L455 632.24 L458 632.22 L461 632.18 L464 632.19 L467 632.23 L470 632.16 L473 632.01 L476 632.06 L479 632.22 L482 632.06 L485 632.16 L488 632.08 L491 632.09 L494 632.03 L497 632.01 L500 632.2 L503 632.27 L506 632.11 L509 632.03 L512 632.08 L515 632.23 L518 632.22 L521 632.09 L524 632.13 L527 632.21 L530 632.18 L533 632.11 L536 632.01 L539 632.01 L542 632.17 L545 632.18 L548 632.16 L551 632.22 L554 632.15 L557 632.2 L560 632.26 L563 632.1 L566 632.04 L569 632.2 L572 632 L575 632.22 L578 632.07 L581 632.11 L584 632 L587 632.04 L590 632.15 L593 632.27 L596 632.04 L599 632.03 L602 632.12 L605 632.24 L608 632.17 L611 632.19 L614 632 L617 632.18 L620 632.22 L623 632.14 L626 632.25 L629 632.17 L632 632.1 L635 632.21 L638 632.15 L641 632.21 L644 632.24 L647 632.05 L650 632.03 L653 632.09 L656 632.02 L659 632.01 L662 632.2 L665 632.11 L668 632.26 L671 632.26 L674 632 L677 632.21 L680 632.04 L683 632.18 L686 632.06 L689 632.19 L692 632.01 L695 632.07 L698 632.25 L701 632.09 L704 632.19 L707 632.1 L710 632.08 L713 632.02 L716 632.18 L719 632.2 L722 632.03 L725 632.21 L728 632.12 L731 632.18 L734 632.2 L737 632.1 L740 632.01 L743 632.16 L746 632.09 L749 632.16 L752 632.25 L755 632.11 L758 632.09 L761 632.18 L764 632.09 L767 632.05 L770 632.01 L773 632.16 L776 632.11 L779 632.03 L782 632.15 L785 632.04 L788 632.11 L791 632.06 L794 632.17 L797 632 L800 632.11 L803 632.17 L806 632 L809 632.09 L812 632.18 L815 632.23 L818 632.26 L821 632.06 L824 632.01 L827 632.27 L830 632.1 L833 632.07 L836 632.11 L839 632.25 L842 632.21 L845 632.23 L848 632.01 L851 632.14 L854 632.11 L857 632.05 L860 632.05 L863 632.13 L866 632.17 L869 632.22 L872 632.03 L875 632.21 L878 632.17 L881 632.11 L884 632.23 L887 632.04 L890 632 L893 632.14 L896 632.22 L899 632.03 L902 632.24 L905 632.09 L908 632 L911 632.04 L914 632.13 L917 632.26 L920 632.22 L923 632.27 L926 632.09 L929 632.23 L932 632.27 L935 632.26 L938 632.19 L941 632.05 L944 632.07 L947 632.12 L950 632.02 L953 632.16 L956 632.09 L959 632.04 L962 632.19 L965 632.03 L968 632.27 L971 632.1 L974 632.07 L977 632.16 L980 632.21 L983 632.26 L986 632.21 L989 632.27 L992 632.01 L995 632.2 L998 632.19 L1001 632.01 L1004 632.12 L1007 632.2 L1010 632.13 L1013 632.16 L1016 632.16 L1019 632.01 L1022 632.13 L1025 632.08 L1028 632.23 L1031 632.14 L1034 632.02 L1037 632.05 L1040 632.16 L1043 632.19 L1046 632.1 L1049 632.01 L1052 632.16 L1055 632.13 L1058 632.11 L1061 632.13 L1064 632.06 L1067 632.06 L1070 632.04 L1073 632.09 L1076 632.16 L1079 632.14 L1082 632.2 L1085 632 L1088 632.06 L1091 632.01 L1094 632.25 L1097 632.08 L1100 632.05 L1103 632.27 L1106 632.03 L1109 632.27 L1112 632.23 L1115 632.18 L1118 632.14 L1121 632.07 L1124 632.18 L1127 632.2 L1130 632.03 L1133 632.19 L1136 632.2 L1139 632.17 L1142 632.2 L1145 632.22 L1148 632.04 L1151 632.27 L1154 632.06 L1157 632.1 L1160 632.11 L1163 632.09 L1166 632.13 L1169 632.23 L1172 632.16 L1175 632.12 L1178 632.19 L1181 632.09 L1184 632.1 L1187 632.23 L1190 632.22 L1193 632.02 L1196 632.22 L1199 632.2 L1202 632.26 L1205 632.21 L1208 632.07 L1211 632.21 L1214 632.22 L1217 632.24 L1220 632.15 L1223 632.18 L1226 632.14 L1229 632.07 L1232 632.02 L1235 632.24 L1238 632.09 L1241 632.13 L1244 632.11 L1247 632.06 L1250 632.08 L1253 632.12 L1256 632.14 L1259 632.09 L1262 632.19 L1265 632.18 L1268 632.21 L1271 632.22 L1274 632.27 L1277 632.03 L1280 632 L1283 632.03 L1286 632.18 L1289 632.02 L1292 632.1 L1295 632.12 L1298 632.08 L1301 632.02 L1304 632.27 L1307 632.04 L1310 632.1 L1313 632.2 L1316 632.07 L1319 632.04 L1322 632.22 L1323.5 632.5Z" fill="#B514A8"/>
<path d="M443 632.5 L443.76 632.14 L444.5 631.74 L445 631.7 L445.5 631.74 L446.24 632.14 L447 632.5Z" fill="#B514A8"/>
<path d="M484 632.5 L484.76 631.83 L485.5 631.08 L486 631 L486.5 631.08 L487.24 631.83 L488 632.5Z" fill="#B514A8"/>
<path d="M512 632.5 L513.14 631.69 L514.25 630.79 L515 630.7 L515.75 630.79 L516.86 631.69 L518 632.5Z" fill="#B514A8"/>
<path d="M516 632.5 L517.52 631.6 L519 630.6 L520 630.5 L521 630.6 L522.48 631.6 L524 632.5Z" fill="#B514A8"/>
<path d="M522 632.5 L523.14 631.74 L524.25 630.88 L525 630.8 L525.75 630.88 L526.86 631.74 L528 632.5Z" fill="#B514A8"/>
<path d="M532 632.5 L532.76 631.83 L533.5 631.08 L534 631 L534.5 631.08 L535.24 631.83 L536 632.5Z" fill="#B514A8"/>
<path d="M539 632.5 L539.76 631.83 L540.5 631.08 L541 631 L541.5 631.08 L542.24 631.83 L543 632.5Z" fill="#B514A8"/>
<path d="M546.5 632.5 L547.45 631.6 L548.38 630.6 L549 630.5 L549.62 630.6 L550.55 631.6 L551.5 632.5Z" fill="#B514A8"/>
<path d="M548.5 632.5 L549.83 631.15 L551.12 629.65 L552 629.5 L552.88 629.65 L554.17 631.15 L555.5 632.5Z" fill="#B514A8"/>
<path d="M565.5 632.5 L566.26 632.14 L567 631.74 L567.5 631.7 L568 631.74 L568.74 632.14 L569.5 632.5Z" fill="#B514A8"/>
<path d="M1065.71 632.5 L1065.71 632.33 L1066.12 632.33 L1066.52 632.31 L1066.92 632.3 L1067.32 632.27 L1067.72 632.24 L1068.12 632.2 L1068.52 632.15 L1068.92 632.09 L1069.32 632.03 L1069.72 631.96 L1070.13 631.88 L1070.53 631.79 L1070.93 631.69 L1071.33 631.58 L1071.71 631.47 L1071.73 631.47 L1072.13 631.15 L1072.53 630.53 L1072.93 629.72 L1073.33 628.82 L1073.73 627.93 L1074.14 627.16 L1074.29 626.93 L1074.54 626.55 L1074.94 625.91 L1075.34 625.25 L1075.74 624.62 L1076.14 624.05 L1076.54 623.58 L1076.94 623.24 L1077.34 623.08 L1077.46 623.07 L1077.74 623.26 L1078.15 624.03 L1078.55 625.2 L1078.95 626.54 L1079.35 627.85 L1079.75 628.89 L1080.15 629.46 L1080.29 629.5 L1080.55 629.39 L1080.95 628.85 L1081.35 627.98 L1081.75 626.91 L1082.16 625.76 L1082.56 624.65 L1082.86 623.93 L1082.96 623.71 L1083.36 622.76 L1083.76 621.75 L1084.16 620.71 L1084.56 619.67 L1084.96 618.65 L1085.36 617.7 L1085.76 616.84 L1086.17 616.11 L1086.57 615.53 L1086.71 615.36 L1086.97 615.09 L1087.37 614.67 L1087.77 614.33 L1088.17 614.12 L1088.43 614.07 L1088.57 614.15 L1088.97 615.01 L1089.37 616.51 L1089.77 618.23 L1090.14 619.64 L1090.18 619.75 L1090.58 621.4 L1090.98 623.05 L1091.38 623.92 L1091.43 623.93 L1091.78 623.43 L1092.18 621.84 L1092.58 619.45 L1092.98 616.57 L1093.14 615.36 L1093.38 613.48 L1093.78 608.27 L1093.91 605.41 L1094 600.7 L1094.19 600.19 L1094.43 599.76 L1094.59 597.22 L1094.86 588.27 L1094.99 581.68 L1095.2 572.76 L1095.39 572.18 L1095.79 571.74 L1096.06 571.04 L1096.19 567.02 L1096.4 558.27 L1096.59 555.59 L1096.99 551.78 L1097.26 550.99 L1097.39 551.17 L1097.79 553.45 L1098.2 557.32 L1098.29 558.27 L1098.6 563.2 L1098.97 571.04 L1099 571.57 L1099.4 580.21 L1099.57 583.99 L1099.8 589.14 L1100.17 596.76 L1100.2 597.21 L1100.6 602.08 L1100.86 605.41 L1101 608.12 L1101.4 617.15 L1101.54 619.64 L1101.8 623.73 L1102.21 628.72 L1102.4 629.5 L1102.61 629.07 L1103.01 626.3 L1103.41 622.23 L1103.81 618.31 L1103.86 617.93 L1104.21 614.72 L1104.61 610.62 L1105.01 606.99 L1105.41 604.86 L1105.57 604.64 L1105.81 605.01 L1106.22 606.86 L1106.62 609.48 L1106.86 611.07 L1107.02 612.24 L1107.42 616.27 L1107.82 621.08 L1108.22 625.69 L1108.62 629.11 L1109 630.36 L1109.02 630.36 L1109.42 629.71 L1109.82 628.18 L1110.23 626.21 L1110.63 624.19 L1111.03 622.56 L1111.14 622.21 L1111.43 621.43 L1111.83 620.32 L1112.23 619.33 L1112.63 618.62 L1113.03 618.36 L1113.03 618.36 L1113.43 618.82 L1113.83 619.99 L1114.24 621.62 L1114.64 623.43 L1115.04 625.15 L1115.43 626.5 L1115.44 626.53 L1115.84 627.75 L1116.24 629.03 L1116.64 630.22 L1117.04 631.13 L1117.44 631.61 L1117.57 631.64 L1117.84 631.59 L1118.25 631.37 L1118.65 631.01 L1119.05 630.6 L1119.45 630.18 L1119.85 629.81 L1120.25 629.57 L1120.57 629.5 L1120.65 629.51 L1121.05 629.69 L1121.45 630.09 L1121.85 630.61 L1122.26 631.17 L1122.66 631.7 L1123.06 632.11 L1123.46 632.32 L1123.57 632.33 L1123.86 632.33 L1124.26 632.33 L1124.66 632.33 L1125.06 632.33 L1125.46 632.33 L1125.86 632.33 L1126.27 632.33 L1126.67 632.33 L1127.07 632.33 L1127.47 632.33 L1127.87 632.33 L1128.27 632.33 L1128.67 632.33 L1129.07 632.33 L1129.14 632.33 L1129.47 632.3 L1129.87 632.2 L1130.28 632.05 L1130.68 631.89 L1131.08 631.72 L1131.48 631.58 L1131.88 631.49 L1132.14 631.47 L1132.28 631.48 L1132.68 631.54 L1133.08 631.66 L1133.48 631.84 L1133.88 632.07 L1134.29 632.33 L1134.29 632.5Z" fill="#B514A8"/>
<line x1="351.9" y1="632.5" x2="1369.6" y2="632.5" stroke="#000" stroke-width="0.62"/>
<path d="M398 754 L398 753.75 L401 753.74 L404 753.71 L407 753.75 L410 753.62 L413 753.69 L416 753.74 L419 753.73 L422 753.79 L425 753.79 L428 753.73 L431 753.69 L434 753.81 L437 753.75 L440 753.8 L443 753.75 L446 753.72 L449 753.73 L452 753.62 L455 753.7 L458 753.66 L461 753.76 L464 753.78 L467 753.61 L470 753.72 L473 753.72 L476 753.78 L479 753.68 L482 753.68 L485 753.64 L488 753.7 L491 753.61 L494 753.74 L497 753.58 L500 753.76 L503 753.62 L506 753.81 L509 753.64 L512 753.71 L515 753.77 L518 753.61 L521 753.67 L524 753.63 L527 753.6 L530 753.74 L533 753.81 L536 753.61 L539 753.8 L542 753.71 L545 753.67 L548 753.65 L551 753.73 L554 753.62 L557 753.75 L560 753.59 L563 753.69 L566 753.74 L569 753.63 L572 753.66 L575 753.69 L578 753.69 L581 753.69 L584 753.8 L587 753.74 L590 753.78 L593 753.7 L596 753.63 L599 753.6 L602 753.63 L605 753.66 L608 753.71 L611 753.79 L614 753.6 L617 753.74 L620 753.72 L623 753.62 L626 753.6 L629 753.71 L632 753.81 L635 753.72 L638 753.76 L641 753.8 L644 753.62 L647 753.73 L650 753.7 L653 753.62 L656 753.58 L659 753.78 L662 753.7 L665 753.8 L668 753.77 L671 753.76 L674 753.6 L677 753.63 L680 753.67 L683 753.69 L686 753.66 L689 753.75 L692 753.79 L695 753.58 L698 753.61 L701 753.64 L704 753.67 L707 753.78 L710 753.76 L713 753.63 L716 753.75 L719 753.73 L722 753.58 L725 753.76 L728 753.62 L731 753.81 L734 753.8 L737 753.74 L740 753.65 L743 753.62 L746 753.81 L749 753.63 L752 753.61 L755 753.67 L758 753.81 L761 753.64 L764 753.72 L767 753.8 L770 753.6 L773 753.74 L776 753.78 L779 753.76 L782 753.77 L785 753.69 L788 753.65 L791 753.77 L794 753.62 L797 753.68 L800 753.64 L803 753.73 L806 753.76 L809 753.69 L812 753.77 L815 753.61 L818 753.7 L821 753.61 L824 753.6 L827 753.68 L830 753.59 L833 753.74 L836 753.62 L839 753.65 L842 753.76 L845 753.66 L848 753.79 L851 753.73 L854 753.61 L857 753.71 L860 753.61 L863 753.66 L866 753.6 L869 753.64 L872 753.73 L875 753.58 L878 753.79 L881 753.8 L884 753.75 L887 753.81 L890 753.78 L893 753.79 L896 753.7 L899 753.61 L902 753.66 L905 753.64 L908 753.69 L911 753.59 L914 753.61 L917 753.72 L920 753.72 L923 753.62 L926 753.65 L929 753.8 L932 753.63 L935 753.65 L938 753.77 L941 753.6 L944 753.71 L947 753.64 L950 753.62 L953 753.65 L956 753.8 L959 753.65 L962 753.69 L965 753.66 L968 753.76 L971 753.74 L974 753.59 L977 753.69 L980 753.79 L983 753.73 L986 753.66 L989 753.71 L992 753.59 L995 753.67 L998 753.63 L1001 753.8 L1004 753.78 L1007 753.67 L1010 753.78 L1013 753.63 L1016 753.76 L1019 753.79 L1022 753.8 L1025 753.62 L1028 753.76 L1031 753.77 L1034 753.72 L1037 753.73 L1040 753.74 L1043 753.77 L1046 753.76 L1049 753.68 L1052 753.59 L1055 753.66 L1058 753.78 L1061 753.77 L1064 753.61 L1067 753.63 L1070 753.79 L1073 753.68 L1076 753.79 L1079 753.77 L1082 753.59 L1085 753.68 L1088 753.79 L1091 753.66 L1094 753.69 L1097 753.61 L1100 753.61 L1103 753.68 L1106 753.68 L1109 753.76 L1112 753.7 L1115 753.79 L1118 753.79 L1121 753.8 L1124 753.74 L1127 753.8 L1130 753.75 L1133 753.6 L1136 753.61 L1139 753.71 L1142 753.79 L1145 753.71 L1148 753.68 L1151 753.73 L1154 753.8 L1157 753.68 L1160 753.6 L1163 753.59 L1166 753.67 L1169 753.71 L1172 753.74 L1175 753.7 L1178 753.66 L1181 753.64 L1184 753.61 L1187 753.63 L1190 753.75 L1193 753.79 L1196 753.59 L1199 753.59 L1202 753.8 L1205 753.67 L1208 753.76 L1211 753.76 L1214 753.59 L1217 753.74 L1220 753.7 L1223 753.64 L1226 753.71 L1229 753.65 L1232 753.81 L1235 753.62 L1238 753.76 L1241 753.64 L1244 753.72 L1247 753.59 L1250 753.78 L1253 753.64 L1256 753.75 L1259 753.72 L1262 753.68 L1265 753.74 L1268 753.68 L1271 753.68 L1274 753.67 L1277 753.81 L1280 753.69 L1283 753.59 L1286 753.73 L1289 753.66 L1292 753.62 L1295 753.6 L1298 753.74 L1301 753.8 L1304 753.66 L1307 753.71 L1310 753.77 L1313 753.74 L1316 753.59 L1319 753.78 L1322 753.58 L1323.5 754Z" fill="#380B63"/>
<path d="M408.5 754 L409.45 753.64 L410.38 753.24 L411 753.2 L411.62 753.24 L412.55 753.64 L413.5 754Z" fill="#380B63"/>
<path d="M453.5 754 L454.45 753.64 L455.38 753.24 L456 753.2 L456.62 753.24 L457.55 753.64 L458.5 754Z" fill="#380B63"/>
<path d="M469.5 754 L470.64 753.55 L471.75 753.05 L472.5 753 L473.25 753.05 L474.36 753.55 L475.5 754Z" fill="#380B63"/>
<path d="M492.5 754 L493.45 753.64 L494.38 753.24 L495 753.2 L495.62 753.24 L496.55 753.64 L497.5 754Z" fill="#380B63"/>
<path d="M507.5 754 L508.83 753.55 L510.12 753.05 L511 753 L511.88 753.05 L513.17 753.55 L514.5 754Z" fill="#380B63"/>
<path d="M512 754 L513.14 753.33 L514.25 752.58 L515 752.5 L515.75 752.58 L516.86 753.33 L518 754Z" fill="#380B63"/>
<path d="M517.5 754 L518.83 753.28 L520.12 752.48 L521 752.4 L521.88 752.48 L523.17 753.28 L524.5 754Z" fill="#380B63"/>
<path d="M524 754 L525.52 753.55 L527 753.05 L528 753 L529 753.05 L530.48 753.55 L532 754Z" fill="#380B63"/>
<path d="M532 754 L533.52 753.55 L535 753.05 L536 753 L537 753.05 L538.48 753.55 L540 754Z" fill="#380B63"/>
<path d="M545 754 L546.71 752.42 L548.38 750.67 L549.5 750.5 L550.62 750.67 L552.29 752.42 L554 754Z" fill="#380B63"/>
<path d="M555 754 L555.76 753.64 L556.5 753.24 L557 753.2 L557.5 753.24 L558.24 753.64 L559 754Z" fill="#380B63"/>
<path d="M767 754 L768.14 753.73 L769.25 753.43 L770 753.4 L770.75 753.43 L771.86 753.73 L773 754Z" fill="#380B63"/>
<path d="M1205 754 L1206.14 753.64 L1207.25 753.24 L1208 753.2 L1208.75 753.24 L1209.86 753.64 L1211 754Z" fill="#380B63"/>
<path d="M1217 754 L1218.14 753.68 L1219.25 753.34 L1220 753.3 L1220.75 753.34 L1221.86 753.68 L1223 754Z" fill="#380B63"/>
<path d="M1236 754 L1237.52 753.68 L1239 753.34 L1240 753.3 L1241 753.34 L1242.48 753.68 L1244 754Z" fill="#380B63"/>
<path d="M1297 754 L1298.14 753.64 L1299.25 753.24 L1300 753.2 L1300.75 753.24 L1301.86 753.64 L1303 754Z" fill="#380B63"/>
<path d="M1312 754 L1313.14 753.68 L1314.25 753.34 L1315 753.3 L1315.75 753.34 L1316.86 753.68 L1318 754Z" fill="#380B63"/>
<path d="M1061.43 754 L1061.43 753.83 L1061.83 753.83 L1062.23 753.82 L1062.63 753.8 L1063.03 753.78 L1063.43 753.75 L1063.83 753.72 L1064.24 753.68 L1064.64 753.63 L1065.04 753.58 L1065.44 753.52 L1065.84 753.46 L1066.24 753.4 L1066.64 753.32 L1067.04 753.25 L1067.44 753.17 L1067.84 753.08 L1068.24 752.99 L1068.65 752.89 L1069.05 752.8 L1069.45 752.69 L1069.85 752.58 L1070 752.54 L1070.25 752.46 L1070.65 752.29 L1071.05 752.06 L1071.45 751.79 L1071.85 751.48 L1072.25 751.13 L1072.65 750.75 L1073.06 750.36 L1073.43 749.97 L1073.46 749.94 L1073.86 749.38 L1074.26 748.62 L1074.66 747.73 L1075.06 746.76 L1075.46 745.79 L1075.86 744.88 L1076.26 744.1 L1076.66 743.5 L1077.06 743.17 L1077.29 743.11 L1077.47 743.13 L1077.87 743.27 L1078.27 743.53 L1078.67 743.9 L1079.07 744.36 L1079.43 744.83 L1079.47 744.89 L1079.87 746.26 L1080.27 748.08 L1080.67 749.1 L1080.71 749.11 L1081.07 748.87 L1081.47 748.3 L1081.88 747.86 L1082 747.83 L1082.28 747.9 L1082.68 748.2 L1083.08 748.64 L1083.48 749.14 L1083.88 749.59 L1084.28 749.9 L1084.57 749.97 L1084.68 749.93 L1085.08 749.15 L1085.48 747.64 L1085.88 745.72 L1086.29 743.71 L1086.69 741.93 L1086.71 741.83 L1087.09 740.18 L1087.49 738.2 L1087.89 736.47 L1088.29 735.48 L1088.43 735.4 L1088.69 735.66 L1089.09 736.89 L1089.49 738.71 L1089.89 740.7 L1090.14 741.83 L1090.29 742.55 L1090.7 744.95 L1091.1 747.1 L1091.43 747.83 L1091.5 747.81 L1091.9 747.14 L1092.3 745.63 L1092.7 743.45 L1093.1 740.8 L1093.31 739.26 L1093.5 737.51 L1093.9 731.73 L1094 730 L1094.3 722.67 L1094.6 712.86 L1094.71 707.36 L1094.94 696.4 L1095.11 696.11 L1095.51 695.85 L1095.91 695.69 L1096.23 695.2 L1096.31 691.02 L1096.4 683.54 L1096.57 675.06 L1096.71 675.14 L1097.11 676.21 L1097.43 677.71 L1097.51 678.5 L1097.91 686.01 L1098.03 687.06 L1098.31 687.62 L1098.71 688.06 L1098.89 688.43 L1099.12 689.72 L1099.52 694.77 L1099.57 695.71 L1099.92 709.91 L1100 712.86 L1100.32 720.2 L1100.72 727.4 L1100.86 730 L1101.12 735.6 L1101.37 740.11 L1101.52 742.11 L1101.92 747.07 L1102.32 749.98 L1102.44 750.17 L1102.72 749.79 L1103.12 748.17 L1103.53 745.78 L1103.93 743.13 L1104.29 740.97 L1104.33 740.74 L1104.73 737.96 L1105.13 735.15 L1105.53 733.7 L1105.57 733.69 L1105.93 734.03 L1106.33 735.02 L1106.73 736.29 L1106.86 736.69 L1107.13 737.79 L1107.53 740.08 L1107.94 742.87 L1108.34 745.76 L1108.74 748.4 L1109.14 750.41 L1109.54 751.41 L1109.64 751.46 L1109.94 751.28 L1110.34 750.54 L1110.74 749.39 L1111.14 748 L1111.54 746.52 L1111.94 745.13 L1112.35 744 L1112.75 743.28 L1113.03 743.11 L1113.15 743.15 L1113.55 743.67 L1113.95 744.67 L1114.35 745.94 L1114.75 747.28 L1115.15 748.48 L1115.43 749.11 L1115.55 749.36 L1115.95 750.19 L1116.35 751.04 L1116.76 751.83 L1117.16 752.49 L1117.56 752.95 L1117.96 753.14 L1118 753.14 L1118.36 753.08 L1118.76 752.89 L1119.16 752.63 L1119.56 752.35 L1119.96 752.11 L1120.36 751.97 L1120.57 751.94 L1120.76 751.95 L1121.17 752.02 L1121.57 752.16 L1121.97 752.36 L1122.37 752.64 L1122.77 752.97 L1123.17 753.37 L1123.57 753.83 L1123.57 754Z" fill="#380B63"/>
<line x1="351.9" y1="754" x2="1369.6" y2="754" stroke="#000" stroke-width="0.62"/>
<path d="M398 875.5 L398 875.38 L401 875.38 L404 875.39 L407 875.38 L410 875.42 L413 875.4 L416 875.41 L419 875.38 L422 875.41 L425 875.35 L428 875.37 L431 875.37 L434 875.37 L437 875.37 L440 875.37 L443 875.35 L446 875.42 L449 875.41 L452 875.41 L455 875.37 L458 875.42 L461 875.37 L464 875.39 L467 875.39 L470 875.37 L473 875.37 L476 875.36 L479 875.35 L482 875.4 L485 875.39 L488 875.41 L491 875.42 L494 875.41 L497 875.43 L500 875.37 L503 875.38 L506 875.39 L509 875.38 L512 875.37 L515 875.42 L518 875.39 L521 875.36 L524 875.38 L527 875.42 L530 875.41 L533 875.4 L536 875.37 L539 875.39 L542 875.36 L545 875.4 L548 875.39 L551 875.42 L554 875.42 L557 875.38 L560 875.39 L563 875.4 L566 875.37 L569 875.38 L572 875.38 L575 875.39 L578 875.41 L581 875.36 L584 875.37 L587 875.4 L590 875.37 L593 875.36 L596 875.38 L599 875.39 L602 875.4 L605 875.39 L608 875.36 L611 875.36 L614 875.36 L617 875.36 L620 875.38 L623 875.37 L626 875.37 L629 875.42 L632 875.43 L635 875.39 L638 875.43 L641 875.36 L644 875.39 L647 875.41 L650 875.38 L653 875.43 L656 875.43 L659 875.41 L662 875.38 L665 875.42 L668 875.41 L671 875.4 L674 875.36 L677 875.38 L680 875.37 L683 875.42 L686 875.42 L689 875.42 L692 875.41 L695 875.41 L698 875.38 L701 875.4 L704 875.39 L707 875.43 L710 875.37 L713 875.41 L716 875.37 L719 875.4 L722 875.43 L725 875.42 L728 875.39 L731 875.38 L734 875.39 L737 875.39 L740 875.4 L743 875.38 L746 875.35 L749 875.37 L752 875.43 L755 875.42 L758 875.37 L761 875.42 L764 875.39 L767 875.41 L770 875.36 L773 875.41 L776 875.38 L779 875.39 L782 875.41 L785 875.38 L788 875.42 L791 875.35 L794 875.41 L797 875.37 L800 875.41 L803 875.36 L806 875.36 L809 875.4 L812 875.35 L815 875.42 L818 875.39 L821 875.35 L824 875.41 L827 875.38 L830 875.38 L833 875.36 L836 875.38 L839 875.41 L842 875.37 L845 875.42 L848 875.41 L851 875.39 L854 875.39 L857 875.39 L860 875.35 L863 875.36 L866 875.39 L869 875.38 L872 875.37 L875 875.37 L878 875.4 L881 875.42 L884 875.4 L887 875.42 L890 875.41 L893 875.38 L896 875.42 L899 875.39 L902 875.38 L905 875.4 L908 875.38 L911 875.43 L914 875.38 L917 875.37 L920 875.42 L923 875.38 L926 875.37 L929 875.36 L932 875.39 L935 875.41 L938 875.38 L941 875.43 L944 875.42 L947 875.36 L950 875.42 L953 875.36 L956 875.43 L959 875.42 L962 875.37 L965 875.39 L968 875.43 L971 875.4 L974 875.37 L977 875.38 L980 875.36 L983 875.43 L986 875.42 L989 875.41 L992 875.39 L995 875.39 L998 875.41 L1001 875.42 L1004 875.42 L1007 875.39 L1010 875.4 L1013 875.42 L1016 875.38 L1019 875.38 L1022 875.38 L1025 875.39 L1028 875.41 L1031 875.39 L1034 875.36 L1037 875.41 L1040 875.42 L1043 875.38 L1046 875.4 L1049 875.39 L1052 875.36 L1055 875.42 L1058 875.43 L1061 875.37 L1064 875.39 L1067 875.42 L1070 875.41 L1073 875.4 L1076 875.42 L1079 875.41 L1082 875.38 L1085 875.39 L1088 875.4 L1091 875.4 L1094 875.35 L1097 875.43 L1100 875.35 L1103 875.37 L1106 875.36 L1109 875.4 L1112 875.37 L1115 875.41 L1118 875.4 L1121 875.4 L1124 875.41 L1127 875.4 L1130 875.38 L1133 875.35 L1136 875.36 L1139 875.39 L1142 875.36 L1145 875.42 L1148 875.41 L1151 875.37 L1154 875.4 L1157 875.39 L1160 875.41 L1163 875.38 L1166 875.43 L1169 875.42 L1172 875.38 L1175 875.4 L1178 875.43 L1181 875.4 L1184 875.39 L1187 875.4 L1190 875.4 L1193 875.36 L1196 875.42 L1199 875.43 L1202 875.43 L1205 875.38 L1208 875.38 L1211 875.42 L1214 875.42 L1217 875.36 L1220 875.42 L1223 875.37 L1226 875.4 L1229 875.41 L1232 875.39 L1235 875.39 L1238 875.4 L1241 875.38 L1244 875.42 L1247 875.42 L1250 875.42 L1253 875.39 L1256 875.43 L1259 875.37 L1262 875.42 L1265 875.41 L1268 875.39 L1271 875.36 L1274 875.41 L1277 875.42 L1280 875.43 L1283 875.35 L1286 875.37 L1289 875.35 L1292 875.4 L1295 875.41 L1298 875.41 L1301 875.42 L1304 875.41 L1307 875.43 L1310 875.41 L1313 875.41 L1316 875.39 L1319 875.43 L1322 875.37 L1323.5 875.5Z" fill="#BE56F8"/>
<path d="M481.88 875.5 L483.75 873.88 L485 870.75 L486.5 870.75 L487.5 873.25 L490 873.62 L491.88 874.12 L492.75 872.62 L493.75 873.62 L495.62 871.38 L496.62 870.12 L497.75 872 L499.38 873.25 L500.62 872.62 L501.88 874.12 L503.12 875.5 Z" fill="#BE56F8"/>
<path d="M511 875.5 L512.5 872.62 L513.75 872.62 L515 872.38 L516.25 873.88 L518.12 874.12 L519.38 872 L521.25 869.12 L522.25 871.62 L523.75 872 L525.62 873.25 L527.5 873.88 L528.75 875.5 Z" fill="#BE56F8"/>
<path d="M408 875.5 L408.76 875.23 L409.5 874.93 L410 874.9 L410.5 874.93 L411.24 875.23 L412 875.5Z" fill="#BE56F8"/>
<path d="M413.1 875.5 L414.05 874.51 L414.98 873.41 L415.6 873.3 L416.23 873.41 L417.15 874.51 L418.1 875.5Z" fill="#BE56F8"/>
<path d="M420 875.5 L420.95 874.91 L421.88 874.26 L422.5 874.2 L423.12 874.26 L424.05 874.91 L425 875.5Z" fill="#BE56F8"/>
<path d="M456.5 875.5 L457.26 875.23 L458 874.93 L458.5 874.9 L459 874.93 L459.74 875.23 L460.5 875.5Z" fill="#BE56F8"/>
<path d="M463 875.5 L463.76 875.23 L464.5 874.93 L465 874.9 L465.5 874.93 L466.24 875.23 L467 875.5Z" fill="#BE56F8"/>
<path d="M470 875.5 L470.76 875.23 L471.5 874.93 L472 874.9 L472.5 874.93 L473.24 875.23 L474 875.5Z" fill="#BE56F8"/>
<path d="M476.8 875.5 L477.56 875.27 L478.3 875.02 L478.8 875 L479.3 875.02 L480.04 875.27 L480.8 875.5Z" fill="#BE56F8"/>
<path d="M538.9 875.5 L540.04 874.91 L541.15 874.26 L541.9 874.2 L542.65 874.26 L543.76 874.91 L544.9 875.5Z" fill="#BE56F8"/>
<path d="M545 875.5 L546.14 874.91 L547.25 874.26 L548 874.2 L548.75 874.26 L549.86 874.91 L551 875.5Z" fill="#BE56F8"/>
<path d="M551 875.5 L551.76 875.23 L552.5 874.93 L553 874.9 L553.5 874.93 L554.24 875.23 L555 875.5Z" fill="#BE56F8"/>
<path d="M559 875.5 L559.76 875.23 L560.5 874.93 L561 874.9 L561.5 874.93 L562.24 875.23 L563 875.5Z" fill="#BE56F8"/>
<path d="M571.5 875.5 L572.26 874.96 L573 874.36 L573.5 874.3 L574 874.36 L574.74 874.96 L575.5 875.5Z" fill="#BE56F8"/>
<path d="M577.4 875.5 L578.16 875.27 L578.9 875.02 L579.4 875 L579.9 875.02 L580.64 875.27 L581.4 875.5Z" fill="#BE56F8"/>
<path d="M625.3 875.5 L626.06 874.96 L626.8 874.36 L627.3 874.3 L627.8 874.36 L628.54 874.96 L629.3 875.5Z" fill="#BE56F8"/>
<path d="M630.5 875.5 L631.26 875.27 L632 875.02 L632.5 875 L633 875.02 L633.74 875.27 L634.5 875.5Z" fill="#BE56F8"/>
<path d="M637.8 875.5 L638.56 874.96 L639.3 874.36 L639.8 874.3 L640.3 874.36 L641.04 874.96 L641.8 875.5Z" fill="#BE56F8"/>
<path d="M641.9 875.5 L642.85 874.91 L643.77 874.26 L644.4 874.2 L645.02 874.26 L645.95 874.91 L646.9 875.5Z" fill="#BE56F8"/>
<path d="M649.9 875.5 L650.66 875.27 L651.4 875.02 L651.9 875 L652.4 875.02 L653.14 875.27 L653.9 875.5Z" fill="#BE56F8"/>
<path d="M655.5 875.5 L656.26 874.96 L657 874.36 L657.5 874.3 L658 874.36 L658.74 874.96 L659.5 875.5Z" fill="#BE56F8"/>
<path d="M660.3 875.5 L661.06 875.05 L661.8 874.55 L662.3 874.5 L662.8 874.55 L663.54 875.05 L664.3 875.5Z" fill="#BE56F8"/>
<path d="M665 875.5 L665.95 874.69 L666.88 873.79 L667.5 873.7 L668.12 873.79 L669.05 874.69 L670 875.5Z" fill="#BE56F8"/>
<path d="M671 875.5 L671.76 875.32 L672.5 875.12 L673 875.1 L673.5 875.12 L674.24 875.32 L675 875.5Z" fill="#BE56F8"/>
<path d="M677.4 875.5 L678.16 875.27 L678.9 875.02 L679.4 875 L679.9 875.02 L680.64 875.27 L681.4 875.5Z" fill="#BE56F8"/>
<path d="M684.5 875.5 L685.45 874.51 L686.38 873.41 L687 873.3 L687.62 873.41 L688.55 874.51 L689.5 875.5Z" fill="#BE56F8"/>
<path d="M686.5 875.5 L687.64 874.15 L688.75 872.65 L689.5 872.5 L690.25 872.65 L691.36 874.15 L692.5 875.5Z" fill="#BE56F8"/>
<path d="M694.4 875.5 L695.35 874.6 L696.27 873.6 L696.9 873.5 L697.52 873.6 L698.45 874.6 L699.4 875.5Z" fill="#BE56F8"/>
<path d="M699.5 875.5 L700.64 874.96 L701.75 874.36 L702.5 874.3 L703.25 874.36 L704.36 874.96 L705.5 875.5Z" fill="#BE56F8"/>
<path d="M714 875.5 L714.76 875.32 L715.5 875.12 L716 875.1 L716.5 875.12 L717.24 875.32 L718 875.5Z" fill="#BE56F8"/>
<path d="M721.8 875.5 L722.56 875.27 L723.3 875.02 L723.8 875 L724.3 875.02 L725.04 875.27 L725.8 875.5Z" fill="#BE56F8"/>
<path d="M728.6 875.5 L729.36 875.23 L730.1 874.93 L730.6 874.9 L731.1 874.93 L731.84 875.23 L732.6 875.5Z" fill="#BE56F8"/>
<path d="M768.25 875.5 L769.39 875.14 L770.5 874.74 L771.25 874.7 L772 874.74 L773.11 875.14 L774.25 875.5Z" fill="#BE56F8"/>
<path d="M776.75 875.5 L777.51 875.27 L778.25 875.02 L778.75 875 L779.25 875.02 L779.99 875.27 L780.75 875.5Z" fill="#BE56F8"/>
<path d="M783 875.5 L783.76 875.27 L784.5 875.02 L785 875 L785.5 875.02 L786.24 875.27 L787 875.5Z" fill="#BE56F8"/>
<path d="M814.9 875.5 L815.66 875.32 L816.4 875.12 L816.9 875.1 L817.4 875.12 L818.14 875.32 L818.9 875.5Z" fill="#BE56F8"/>
<path d="M824 875.5 L824.76 875.32 L825.5 875.12 L826 875.1 L826.5 875.12 L827.24 875.32 L828 875.5Z" fill="#BE56F8"/>
<path d="M848 875.5 L848.76 875.27 L849.5 875.02 L850 875 L850.5 875.02 L851.24 875.27 L852 875.5Z" fill="#BE56F8"/>
<path d="M854.6 875.5 L855.93 874.83 L857.23 874.08 L858.1 874 L858.98 874.08 L860.27 874.83 L861.6 875.5Z" fill="#BE56F8"/>
<path d="M863.9 875.5 L865.04 875.27 L866.15 875.02 L866.9 875 L867.65 875.02 L868.76 875.27 L869.9 875.5Z" fill="#BE56F8"/>
<path d="M878 875.5 L878.76 875.32 L879.5 875.12 L880 875.1 L880.5 875.12 L881.24 875.32 L882 875.5Z" fill="#BE56F8"/>
<path d="M902 875.5 L902.76 875.27 L903.5 875.02 L904 875 L904.5 875.02 L905.24 875.27 L906 875.5Z" fill="#BE56F8"/>
<path d="M907.4 875.5 L908.16 875.27 L908.9 875.02 L909.4 875 L909.9 875.02 L910.64 875.27 L911.4 875.5Z" fill="#BE56F8"/>
<path d="M916.75 875.5 L917.51 875.32 L918.25 875.12 L918.75 875.1 L919.25 875.12 L919.99 875.32 L920.75 875.5Z" fill="#BE56F8"/>
<path d="M925 875.5 L926.14 875.14 L927.25 874.74 L928 874.7 L928.75 874.74 L929.86 875.14 L931 875.5Z" fill="#BE56F8"/>
<path d="M974.5 875.5 L975.83 875.27 L977.12 875.02 L978 875 L978.88 875.02 L980.17 875.27 L981.5 875.5Z" fill="#BE56F8"/>
<path d="M989.25 875.5 L990.01 875.27 L990.75 875.02 L991.25 875 L991.75 875.02 L992.49 875.27 L993.25 875.5Z" fill="#BE56F8"/>
<path d="M996 875.5 L996.76 875.32 L997.5 875.12 L998 875.1 L998.5 875.12 L999.24 875.32 L1000 875.5Z" fill="#BE56F8"/>
<path d="M1159.7 875.5 L1160.54 874.15 L1161.35 872.65 L1161.9 872.5 L1162.45 872.65 L1163.26 874.15 L1164.1 875.5Z" fill="#BE56F8"/>
<path d="M1165.5 875.5 L1166.26 875.32 L1167 875.12 L1167.5 875.1 L1168 875.12 L1168.74 875.32 L1169.5 875.5Z" fill="#BE56F8"/>
<path d="M1182 875.5 L1183.52 875.27 L1185 875.02 L1186 875 L1187 875.02 L1188.48 875.27 L1190 875.5Z" fill="#BE56F8"/>
<path d="M1230 875.5 L1231.14 875.14 L1232.25 874.74 L1233 874.7 L1233.75 874.74 L1234.86 875.14 L1236 875.5Z" fill="#BE56F8"/>
<path d="M1237.95 875.5 L1238.63 874.47 L1239.3 873.32 L1239.75 873.2 L1240.2 873.32 L1240.87 874.47 L1241.55 875.5Z" fill="#BE56F8"/>
<path d="M1244 875.5 L1244.76 875.32 L1245.5 875.12 L1246 875.1 L1246.5 875.12 L1247.24 875.32 L1248 875.5Z" fill="#BE56F8"/>
<path d="M1248.6 875.5 L1249.36 875.27 L1250.1 875.02 L1250.6 875 L1251.1 875.02 L1251.84 875.27 L1252.6 875.5Z" fill="#BE56F8"/>
<path d="M1258.8 875.5 L1259.75 875 L1260.67 874.46 L1261.3 874.4 L1261.92 874.46 L1262.85 875 L1263.8 875.5Z" fill="#BE56F8"/>
<path d="M1264 875.5 L1264.76 875.32 L1265.5 875.12 L1266 875.1 L1266.5 875.12 L1267.24 875.32 L1268 875.5Z" fill="#BE56F8"/>
<path d="M1289 875.5 L1290.14 874.69 L1291.25 873.79 L1292 873.7 L1292.75 873.79 L1293.86 874.69 L1295 875.5Z" fill="#BE56F8"/>
<path d="M1298.5 875.5 L1299.45 874.83 L1300.38 874.08 L1301 874 L1301.62 874.08 L1302.55 874.83 L1303.5 875.5Z" fill="#BE56F8"/>
<path d="M1302.25 875.5 L1303.2 874.15 L1304.12 872.65 L1304.75 872.5 L1305.38 872.65 L1306.3 874.15 L1307.25 875.5Z" fill="#BE56F8"/>
<path d="M1305 875.5 L1305.76 874.83 L1306.5 874.08 L1307 874 L1307.5 874.08 L1308.24 874.83 L1309 875.5Z" fill="#BE56F8"/>
<path d="M1310.5 875.5 L1311.26 875.14 L1312 874.74 L1312.5 874.7 L1313 874.74 L1313.74 875.14 L1314.5 875.5Z" fill="#BE56F8"/>
<path d="M1315.5 875.5 L1316.26 875.27 L1317 875.02 L1317.5 875 L1318 875.02 L1318.74 875.27 L1319.5 875.5Z" fill="#BE56F8"/>
<path d="M1320.4 875.5 L1320.97 875.32 L1321.53 875.12 L1321.9 875.1 L1322.28 875.12 L1322.83 875.32 L1323.4 875.5Z" fill="#BE56F8"/>
<path d="M1050.29 875.5 L1050.29 875.33 L1050.69 874.58 L1051.09 873.9 L1051.49 873.54 L1051.57 873.53 L1051.89 873.53 L1052.29 873.54 L1052.69 873.57 L1053.09 873.6 L1053.49 873.64 L1053.9 873.7 L1054.3 873.76 L1054.7 873.83 L1055.1 873.91 L1055.5 874.01 L1055.9 874.11 L1056.29 874.21 L1056.3 874.22 L1056.7 874.55 L1057.1 875.03 L1057.51 875.32 L1057.57 875.33 L1057.91 875.33 L1058.31 875.33 L1058.71 875.33 L1059.11 875.33 L1059.51 875.33 L1059.91 875.33 L1060.31 875.33 L1060.71 875.33 L1061.11 875.33 L1061.43 875.33 L1061.52 875.28 L1061.92 874.24 L1062.29 873.53 L1062.32 873.53 L1062.72 873.53 L1063.12 873.53 L1063.52 873.53 L1063.92 873.53 L1064 873.53 L1064.32 875.06 L1064.43 875.33 L1064.72 875.33 L1065.13 875.33 L1065.53 875.33 L1065.93 875.33 L1066.33 875.33 L1066.73 875.33 L1067 875.33 L1067.13 875.3 L1067.53 874.98 L1067.93 874.41 L1068.33 873.77 L1068.74 873.22 L1069.14 872.93 L1069.14 872.93 L1069.54 872.84 L1069.94 872.75 L1070.34 872.68 L1070.74 872.61 L1071.14 872.55 L1071.54 872.5 L1071.94 872.45 L1072.35 872.41 L1072.75 872.38 L1073.15 872.36 L1073.55 872.34 L1073.95 872.33 L1074.29 872.33 L1074.35 872.37 L1074.75 873.64 L1075.14 874.64 L1075.15 874.64 L1075.55 874.62 L1075.95 874.55 L1076.36 874.43 L1076.76 874.26 L1076.86 874.21 L1077.16 873.37 L1077.56 871.56 L1077.71 871.21 L1077.96 870.99 L1078.36 870.7 L1078.76 870.49 L1079.16 870.38 L1079.43 870.36 L1079.56 870.5 L1079.97 871.83 L1080.29 872.5 L1080.37 872.5 L1080.77 872.48 L1081.17 872.42 L1081.57 872.31 L1081.97 872.16 L1082.37 871.96 L1082.77 871.7 L1082.86 871.64 L1083.17 870.05 L1083.54 868.21 L1083.58 868.22 L1083.98 869.04 L1084.38 870.16 L1084.57 870.36 L1084.78 870.34 L1085.18 870.24 L1085.58 870.05 L1085.98 869.77 L1086.29 869.5 L1086.38 869.31 L1086.78 866.94 L1087.18 863.59 L1087.57 861.36 L1087.59 861.31 L1087.99 860.21 L1088.39 859.42 L1088.69 859.21 L1088.79 859.3 L1089.19 860.86 L1089.59 863.26 L1089.71 863.93 L1089.99 865.61 L1090.39 868.62 L1090.79 871.6 L1091.2 873.78 L1091.51 874.41 L1091.6 874.33 L1092 871.86 L1092.4 866.94 L1092.8 860.94 L1092.89 859.64 L1093.2 853.65 L1093.6 843.88 L1093.66 842.5 L1094 833.41 L1094.4 821.2 L1094.43 820.39 L1094.81 805.7 L1094.86 803.24 L1095.11 787.81 L1095.21 787.5 L1095.61 786.99 L1096.01 786.55 L1096.14 786.1 L1096.31 773.93 L1096.41 768.1 L1096.49 765.79 L1096.81 769.73 L1097 773.24 L1097.21 776.61 L1097.61 784.26 L1097.69 786.1 L1097.94 795.96 L1098.01 796.24 L1098.42 796.94 L1098.8 797.67 L1098.82 797.74 L1099.22 803.78 L1099.4 807.44 L1099.62 811.8 L1100 820.39 L1100.02 820.84 L1100.42 830.59 L1100.82 841.46 L1100.86 842.5 L1101.22 855.5 L1101.37 859.64 L1101.62 864.85 L1102.02 871.78 L1102.43 874.84 L1102.44 874.84 L1102.83 873.2 L1103.23 868.67 L1103.63 862.35 L1104.03 855.37 L1104.29 851.07 L1104.43 848.24 L1104.83 837.75 L1105.23 829.39 L1105.4 828.36 L1105.63 828.76 L1106.04 830.97 L1106.44 834.35 L1106.84 838.04 L1106.86 838.21 L1107.24 842.79 L1107.64 849.49 L1108.04 857.08 L1108.44 864.45 L1108.84 870.53 L1109.24 874.22 L1109.47 874.84 L1109.65 874.72 L1110.05 873.6 L1110.45 871.67 L1110.85 869.32 L1111.25 866.96 L1111.65 865 L1112 863.93 L1112.05 863.83 L1112.45 863.07 L1112.85 862.48 L1113.25 862.22 L1113.29 862.21 L1113.66 862.53 L1114.06 863.39 L1114.46 864.48 L1114.57 864.79 L1114.86 865.81 L1115.26 867.87 L1115.66 870.22 L1116.06 872.38 L1116.46 873.85 L1116.71 874.21 L1116.86 874.27 L1117.27 874.4 L1117.67 874.51 L1118.07 874.58 L1118.47 874.63 L1118.86 874.64 L1118.87 874.64 L1119.27 873.83 L1119.67 872.94 L1119.71 872.93 L1120.07 872.93 L1120.47 872.95 L1120.88 872.97 L1121.28 873.01 L1121.68 873.08 L1122.08 873.16 L1122.48 873.28 L1122.71 873.36 L1122.88 874.04 L1123.14 875.33 L1123.28 875.33 L1123.68 875.33 L1124.08 875.33 L1124.49 875.33 L1124.89 875.33 L1125.29 875.33 L1125.69 875.33 L1126.09 875.33 L1126.49 875.33 L1126.57 875.33 L1126.89 875.24 L1127.29 874.97 L1127.69 874.65 L1128.09 874.42 L1128.29 874.39 L1128.5 874.42 L1128.9 874.66 L1129.3 874.98 L1129.7 875.25 L1130 875.33 L1130.1 875.33 L1130.5 875.33 L1130.9 875.33 L1131.3 875.33 L1131.7 875.33 L1132.11 875.33 L1132.51 875.33 L1132.91 875.33 L1133.31 875.33 L1133.71 875.33 L1134.11 875.33 L1134.51 875.33 L1134.91 875.33 L1135.31 875.33 L1135.72 875.33 L1136.12 875.33 L1136.52 875.33 L1136.92 875.33 L1137.32 875.33 L1137.72 875.33 L1138.12 875.33 L1138.52 875.33 L1138.92 875.33 L1139.33 875.33 L1139.73 875.33 L1140.13 875.33 L1140.53 875.33 L1140.93 875.33 L1141.33 875.33 L1141.73 875.33 L1142.13 875.33 L1142.53 875.33 L1142.93 875.33 L1143.34 875.33 L1143.74 875.33 L1144.14 875.33 L1144.54 875.33 L1144.94 875.33 L1145.34 875.33 L1145.74 875.33 L1146.14 875.33 L1146.54 875.33 L1146.95 875.33 L1147.14 875.33 L1147.35 875.28 L1147.75 874.98 L1148.15 874.51 L1148.55 874.02 L1148.95 873.65 L1149.29 873.53 L1149.35 873.54 L1149.75 873.99 L1150.15 874.69 L1150.56 875.07 L1150.57 875.07 L1150.96 875.06 L1151.36 875.01 L1151.76 874.94 L1152.16 874.86 L1152.56 874.77 L1152.96 874.67 L1153.36 874.58 L1153.76 874.5 L1154.16 874.43 L1154.57 874.39 L1154.86 874.39 L1154.97 874.39 L1155.37 874.51 L1155.77 874.73 L1156.17 875.02 L1156.57 875.33 L1156.57 875.5Z" fill="#BE56F8"/>
<line x1="351.9" y1="875.5" x2="1369.6" y2="875.5" stroke="#000" stroke-width="0.62"/>
<line x1="106.57" y1="30.5" x2="106.57" y2="880.9" stroke="#000" stroke-width="2.85"/>
<line x1="99.2" y1="146.5" x2="106.57" y2="146.5" stroke="#333" stroke-width="2.85"/>
<line x1="99.2" y1="118.85" x2="106.57" y2="118.85" stroke="#333" stroke-width="2.85"/>
<line x1="99.2" y1="91.2" x2="106.57" y2="91.2" stroke="#333" stroke-width="2.85"/>
<line x1="99.2" y1="63.55" x2="106.57" y2="63.55" stroke="#333" stroke-width="2.85"/>
<line x1="99.2" y1="35.9" x2="106.57" y2="35.9" stroke="#333" stroke-width="2.85"/>
<line x1="99.2" y1="268" x2="106.57" y2="268" stroke="#333" stroke-width="2.85"/>
<line x1="99.2" y1="240.35" x2="106.57" y2="240.35" stroke="#333" stroke-width="2.85"/>
<line x1="99.2" y1="212.7" x2="106.57" y2="212.7" stroke="#333" stroke-width="2.85"/>
<line x1="99.2" y1="185.05" x2="106.57" y2="185.05" stroke="#333" stroke-width="2.85"/>
<line x1="99.2" y1="157.4" x2="106.57" y2="157.4" stroke="#333" stroke-width="2.85"/>
<line x1="99.2" y1="389.5" x2="106.57" y2="389.5" stroke="#333" stroke-width="2.85"/>
<line x1="99.2" y1="361.85" x2="106.57" y2="361.85" stroke="#333" stroke-width="2.85"/>
<line x1="99.2" y1="334.2" x2="106.57" y2="334.2" stroke="#333" stroke-width="2.85"/>
<line x1="99.2" y1="306.55" x2="106.57" y2="306.55" stroke="#333" stroke-width="2.85"/>
<line x1="99.2" y1="278.9" x2="106.57" y2="278.9" stroke="#333" stroke-width="2.85"/>
<line x1="99.2" y1="511" x2="106.57" y2="511" stroke="#333" stroke-width="2.85"/>
<line x1="99.2" y1="483.35" x2="106.57" y2="483.35" stroke="#333" stroke-width="2.85"/>
<line x1="99.2" y1="455.7" x2="106.57" y2="455.7" stroke="#333" stroke-width="2.85"/>
<line x1="99.2" y1="428.05" x2="106.57" y2="428.05" stroke="#333" stroke-width="2.85"/>
<line x1="99.2" y1="400.4" x2="106.57" y2="400.4" stroke="#333" stroke-width="2.85"/>
<line x1="99.2" y1="632.5" x2="106.57" y2="632.5" stroke="#333" stroke-width="2.85"/>
<line x1="99.2" y1="604.85" x2="106.57" y2="604.85" stroke="#333" stroke-width="2.85"/>
<line x1="99.2" y1="577.2" x2="106.57" y2="577.2" stroke="#333" stroke-width="2.85"/>
<line x1="99.2" y1="549.55" x2="106.57" y2="549.55" stroke="#333" stroke-width="2.85"/>
<line x1="99.2" y1="521.9" x2="106.57" y2="521.9" stroke="#333" stroke-width="2.85"/>
<line x1="99.2" y1="754" x2="106.57" y2="754" stroke="#333" stroke-width="2.85"/>
<line x1="99.2" y1="726.35" x2="106.57" y2="726.35" stroke="#333" stroke-width="2.85"/>
<line x1="99.2" y1="698.7" x2="106.57" y2="698.7" stroke="#333" stroke-width="2.85"/>
<line x1="99.2" y1="671.05" x2="106.57" y2="671.05" stroke="#333" stroke-width="2.85"/>
<line x1="99.2" y1="643.4" x2="106.57" y2="643.4" stroke="#333" stroke-width="2.85"/>
<line x1="99.2" y1="875.5" x2="106.57" y2="875.5" stroke="#333" stroke-width="2.85"/>
<line x1="99.2" y1="847.85" x2="106.57" y2="847.85" stroke="#333" stroke-width="2.85"/>
<line x1="99.2" y1="820.2" x2="106.57" y2="820.2" stroke="#333" stroke-width="2.85"/>
<line x1="99.2" y1="792.55" x2="106.57" y2="792.55" stroke="#333" stroke-width="2.85"/>
<line x1="99.2" y1="764.9" x2="106.57" y2="764.9" stroke="#333" stroke-width="2.85"/>
<text x="229.3" y="99.95" font-size="23.47" fill="#1a1a1a" text-anchor="middle" style="letter-spacing:0.53px">Dermal Papillae</text>
<text x="229.3" y="221.45" font-size="23.47" fill="#1a1a1a" text-anchor="middle" style="letter-spacing:0.53px">Papillary</text>
<text x="229.3" y="342.95" font-size="23.47" fill="#1a1a1a" text-anchor="middle" style="letter-spacing:0.53px">Upper Progenitors</text>
<text x="229.3" y="464.45" font-size="23.47" fill="#1a1a1a" text-anchor="middle" style="letter-spacing:0.53px">Lower Progenitors</text>
<text x="229.3" y="585.95" font-size="23.47" fill="#1a1a1a" text-anchor="middle" style="letter-spacing:0.53px">Reticular</text>
<text x="229.3" y="707.45" font-size="23.47" fill="#1a1a1a" text-anchor="middle" style="letter-spacing:0.53px">Intermediate</text>
<text x="229.3" y="828.95" font-size="23.47" fill="#1a1a1a" text-anchor="middle" style="letter-spacing:0.53px">Pre-adipocytes</text>
<text transform="translate(52 460) rotate(-90)" font-size="29.33" fill="#000" text-anchor="middle" style="letter-spacing:0.74px">Normalized signal</text>
<text transform="translate(85 456) rotate(-90)" font-size="29.33" fill="#000" text-anchor="middle">(range 0 - 1000)</text>
<line x1="106.57" y1="919.2" x2="106.57" y2="1174.4" stroke="#000" stroke-width="2.85"/>
<text transform="translate(69 1046.8) rotate(-90)" font-size="29.33" fill="#000" text-anchor="middle" style="letter-spacing:0.9px">Genes</text>
<g stroke="#00008B" fill="none" stroke-width="2.85">
<line x1="1090.6" y1="957.4" x2="1323" y2="957.4"/>
<path d="M1085.6 951.9 L1090.6 957.4 L1085.6 962.9" stroke-linejoin="bevel"/>
<path d="M1104.12 951.9 L1109.12 957.4 L1104.12 962.9" stroke-linejoin="bevel"/>
<path d="M1122.64 951.9 L1127.64 957.4 L1122.64 962.9" stroke-linejoin="bevel"/>
<path d="M1141.16 951.9 L1146.16 957.4 L1141.16 962.9" stroke-linejoin="bevel"/>
<path d="M1159.68 951.9 L1164.68 957.4 L1159.68 962.9" stroke-linejoin="bevel"/>
<path d="M1178.2 951.9 L1183.2 957.4 L1178.2 962.9" stroke-linejoin="bevel"/>
<path d="M1196.72 951.9 L1201.72 957.4 L1196.72 962.9" stroke-linejoin="bevel"/>
<path d="M1215.24 951.9 L1220.24 957.4 L1215.24 962.9" stroke-linejoin="bevel"/>
<path d="M1233.76 951.9 L1238.76 957.4 L1233.76 962.9" stroke-linejoin="bevel"/>
<path d="M1252.28 951.9 L1257.28 957.4 L1252.28 962.9" stroke-linejoin="bevel"/>
<path d="M1270.8 951.9 L1275.8 957.4 L1270.8 962.9" stroke-linejoin="bevel"/>
<path d="M1289.32 951.9 L1294.32 957.4 L1289.32 962.9" stroke-linejoin="bevel"/>
<path d="M1307.84 951.9 L1312.84 957.4 L1307.84 962.9" stroke-linejoin="bevel"/>
<path d="M1318.4 951.9 L1323.4 957.4 L1318.4 962.9" stroke-linejoin="bevel"/>
</g>
<rect x="1091.2" y="948.35" width="15.8" height="18.1" fill="#00008B"/>
<rect x="1173" y="948.35" width="2.8" height="18.1" fill="#00008B"/>
<rect x="1183.2" y="948.35" width="4.3" height="18.1" fill="#00008B"/>
<rect x="1191" y="948.35" width="11.2" height="18.1" fill="#00008B"/>
<rect x="1220.5" y="948.35" width="19.3" height="18.1" fill="#00008B"/>
<rect x="1246.5" y="948.35" width="5.5" height="18.1" fill="#00008B"/>
<rect x="1257" y="948.35" width="3.7" height="18.1" fill="#00008B"/>
<rect x="1270.5" y="948.35" width="3.5" height="18.1" fill="#00008B"/>
<rect x="1289.3" y="948.35" width="4.4" height="18.1" fill="#00008B"/>
<rect x="1296.2" y="948.35" width="7.5" height="18.1" fill="#00008B"/>
<rect x="1321.2" y="948.35" width="0.7" height="18.1" fill="#00008B"/>
<text x="1207" y="951.4" font-size="18.6" fill="#000" text-anchor="middle" style="letter-spacing:0.78px">Hars2</text>
<g stroke="#006400" fill="none" stroke-width="2.85">
<line x1="559" y1="1023.7" x2="1097" y2="1023.7"/>
<path d="M564.55 1018.2 L559.55 1023.7 L564.55 1029.2" stroke-linejoin="bevel"/>
<path d="M583.06 1018.2 L578.06 1023.7 L583.06 1029.2" stroke-linejoin="bevel"/>
<path d="M601.57 1018.2 L596.57 1023.7 L601.57 1029.2" stroke-linejoin="bevel"/>
<path d="M620.08 1018.2 L615.08 1023.7 L620.08 1029.2" stroke-linejoin="bevel"/>
<path d="M638.59 1018.2 L633.59 1023.7 L638.59 1029.2" stroke-linejoin="bevel"/>
<path d="M657.09 1018.2 L652.09 1023.7 L657.09 1029.2" stroke-linejoin="bevel"/>
<path d="M675.6 1018.2 L670.6 1023.7 L675.6 1029.2" stroke-linejoin="bevel"/>
<path d="M694.11 1018.2 L689.11 1023.7 L694.11 1029.2" stroke-linejoin="bevel"/>
<path d="M712.62 1018.2 L707.62 1023.7 L712.62 1029.2" stroke-linejoin="bevel"/>
<path d="M731.13 1018.2 L726.13 1023.7 L731.13 1029.2" stroke-linejoin="bevel"/>
<path d="M749.64 1018.2 L744.64 1023.7 L749.64 1029.2" stroke-linejoin="bevel"/>
<path d="M768.15 1018.2 L763.15 1023.7 L768.15 1029.2" stroke-linejoin="bevel"/>
<path d="M786.66 1018.2 L781.66 1023.7 L786.66 1029.2" stroke-linejoin="bevel"/>
<path d="M805.17 1018.2 L800.17 1023.7 L805.17 1029.2" stroke-linejoin="bevel"/>
<path d="M823.68 1018.2 L818.68 1023.7 L823.68 1029.2" stroke-linejoin="bevel"/>
<path d="M842.18 1018.2 L837.18 1023.7 L842.18 1029.2" stroke-linejoin="bevel"/>
<path d="M860.69 1018.2 L855.69 1023.7 L860.69 1029.2" stroke-linejoin="bevel"/>
<path d="M879.2 1018.2 L874.2 1023.7 L879.2 1029.2" stroke-linejoin="bevel"/>
<path d="M897.71 1018.2 L892.71 1023.7 L897.71 1029.2" stroke-linejoin="bevel"/>
<path d="M916.22 1018.2 L911.22 1023.7 L916.22 1029.2" stroke-linejoin="bevel"/>
<path d="M934.73 1018.2 L929.73 1023.7 L934.73 1029.2" stroke-linejoin="bevel"/>
<path d="M953.24 1018.2 L948.24 1023.7 L953.24 1029.2" stroke-linejoin="bevel"/>
<path d="M971.75 1018.2 L966.75 1023.7 L971.75 1029.2" stroke-linejoin="bevel"/>
<path d="M990.26 1018.2 L985.26 1023.7 L990.26 1029.2" stroke-linejoin="bevel"/>
<path d="M1008.77 1018.2 L1003.77 1023.7 L1008.77 1029.2" stroke-linejoin="bevel"/>
<path d="M1027.28 1018.2 L1022.27 1023.7 L1027.28 1029.2" stroke-linejoin="bevel"/>
<path d="M1045.78 1018.2 L1040.78 1023.7 L1045.78 1029.2" stroke-linejoin="bevel"/>
<path d="M1064.29 1018.2 L1059.29 1023.7 L1064.29 1029.2" stroke-linejoin="bevel"/>
<path d="M1082.8 1018.2 L1077.8 1023.7 L1082.8 1029.2" stroke-linejoin="bevel"/>
<path d="M1101.31 1018.2 L1096.31 1023.7 L1101.31 1029.2" stroke-linejoin="bevel"/>
</g>
<rect x="559.2" y="1014.65" width="13.6" height="18.1" fill="#006400"/>
<rect x="580.5" y="1014.65" width="4.5" height="18.1" fill="#006400"/>
<rect x="609.7" y="1014.65" width="3.3" height="18.1" fill="#006400"/>
<rect x="674" y="1014.65" width="7.5" height="18.1" fill="#006400"/>
<rect x="685" y="1014.65" width="4" height="18.1" fill="#006400"/>
<rect x="697.2" y="1014.65" width="2.8" height="18.1" fill="#006400"/>
<rect x="707" y="1014.65" width="2.7" height="18.1" fill="#006400"/>
<rect x="714" y="1014.65" width="3.7" height="18.1" fill="#006400"/>
<rect x="744" y="1014.65" width="3.8" height="18.1" fill="#006400"/>
<rect x="785" y="1014.65" width="3" height="18.1" fill="#006400"/>
<rect x="870.5" y="1014.65" width="3.7" height="18.1" fill="#006400"/>
<rect x="1080.5" y="1014.65" width="2.7" height="18.1" fill="#006400"/>
<rect x="1091.2" y="1014.65" width="5.8" height="18.1" fill="#006400"/>
<text x="828.7" y="1016.9" font-size="18.6" fill="#000" text-anchor="middle" style="letter-spacing:0.78px">Hars</text>
<g stroke="#006400" fill="none" stroke-width="2.85">
<line x1="466.5" y1="1089.85" x2="549" y2="1089.85"/>
<path d="M471.5 1084.35 L466.5 1089.85 L471.5 1095.35" stroke-linejoin="bevel"/>
<path d="M490 1084.35 L485 1089.85 L490 1095.35" stroke-linejoin="bevel"/>
<path d="M508.5 1084.35 L503.5 1089.85 L508.5 1095.35" stroke-linejoin="bevel"/>
<path d="M527 1084.35 L522 1089.85 L527 1095.35" stroke-linejoin="bevel"/>
<path d="M548 1084.35 L543 1089.85 L548 1095.35" stroke-linejoin="bevel"/>
</g>
<rect x="467" y="1080.8" width="76" height="18.1" fill="#006400"/>
<rect x="546.7" y="1080.8" width="2.4" height="18.1" fill="#006400"/>
<text x="508.2" y="1083.65" font-size="18.6" fill="#000" text-anchor="middle" style="letter-spacing:0.78px">Dnd1</text>
<g stroke="#00008B" fill="none" stroke-width="2.85">
<line x1="397.5" y1="1156.3" x2="468.2" y2="1156.3"/>
<path d="M392.5 1150.8 L397.5 1156.3 L392.5 1161.8" stroke-linejoin="bevel"/>
<path d="M411 1150.8 L416 1156.3 L411 1161.8" stroke-linejoin="bevel"/>
<path d="M429.5 1150.8 L434.5 1156.3 L429.5 1161.8" stroke-linejoin="bevel"/>
<path d="M448 1150.8 L453 1156.3 L448 1161.8" stroke-linejoin="bevel"/>
<path d="M463.7 1150.8 L468.7 1156.3 L463.7 1161.8" stroke-linejoin="bevel"/>
</g>
<rect x="412.5" y="1147.25" width="3.3" height="18.1" fill="#00008B"/>
<rect x="418.8" y="1147.25" width="2.2" height="18.1" fill="#00008B"/>
<rect x="424.5" y="1147.25" width="5.5" height="18.1" fill="#00008B"/>
<rect x="435" y="1147.25" width="2.5" height="18.1" fill="#00008B"/>
<rect x="441" y="1147.25" width="5" height="18.1" fill="#00008B"/>
<rect x="448.3" y="1147.25" width="19.7" height="18.1" fill="#00008B"/>
<text x="432.4" y="1150.1" font-size="18.6" fill="#000" text-anchor="middle" style="letter-spacing:0.78px">Wdr55</text>
<path d="M1252.5 948.3 L1257.4 957.4 L1252.5 966.5Z" fill="#00008B"/>
<path d="M430 1147.2 L435.3 1156.3 L430 1165.4Z" fill="#00008B"/>
<line x1="106.57" y1="1212.5" x2="106.57" y2="1297.4" stroke="#000" stroke-width="2.85"/>
<text transform="translate(69 1254.5) rotate(-90)" font-size="29.33" fill="#000" text-anchor="middle" style="letter-spacing:0.78px">Peaks</text>
<rect x="505.1" y="1249" width="25.7" height="11.75" fill="#696969"/>
<rect x="537.2" y="1249" width="27.8" height="11.75" fill="#696969"/>
<rect x="738.8" y="1249" width="27" height="11.75" fill="#696969"/>
<rect x="777.4" y="1249" width="21.3" height="11.75" fill="#696969"/>
<rect x="1082.4" y="1249" width="33.5" height="11.75" fill="#696969"/>
<rect x="1314.1" y="1249" width="9" height="11.75" fill="#696969"/>
<line x1="351.6" y1="1297.4" x2="1369.6" y2="1297.4" stroke="#000" stroke-width="2.85"/>
<line x1="671.2" y1="1297.4" x2="671.2" y2="1305" stroke="#333" stroke-width="2.85"/>
<text x="671.2" y="1328.6" font-size="23.47" fill="#4d4d4d" text-anchor="middle">36770000</text>
<line x1="993.9" y1="1297.4" x2="993.9" y2="1305" stroke="#333" stroke-width="2.85"/>
<text x="993.9" y="1328.6" font-size="23.47" fill="#4d4d4d" text-anchor="middle">36780000</text>
<line x1="1316.4" y1="1297.4" x2="1316.4" y2="1305" stroke="#333" stroke-width="2.85"/>
<text x="1316.4" y="1328.6" font-size="23.47" fill="#4d4d4d" text-anchor="middle">36790000</text>
<text x="860.4" y="1364" font-size="29.33" fill="#000" text-anchor="middle">chr18 position (bp)</text>
</svg></body></html>
